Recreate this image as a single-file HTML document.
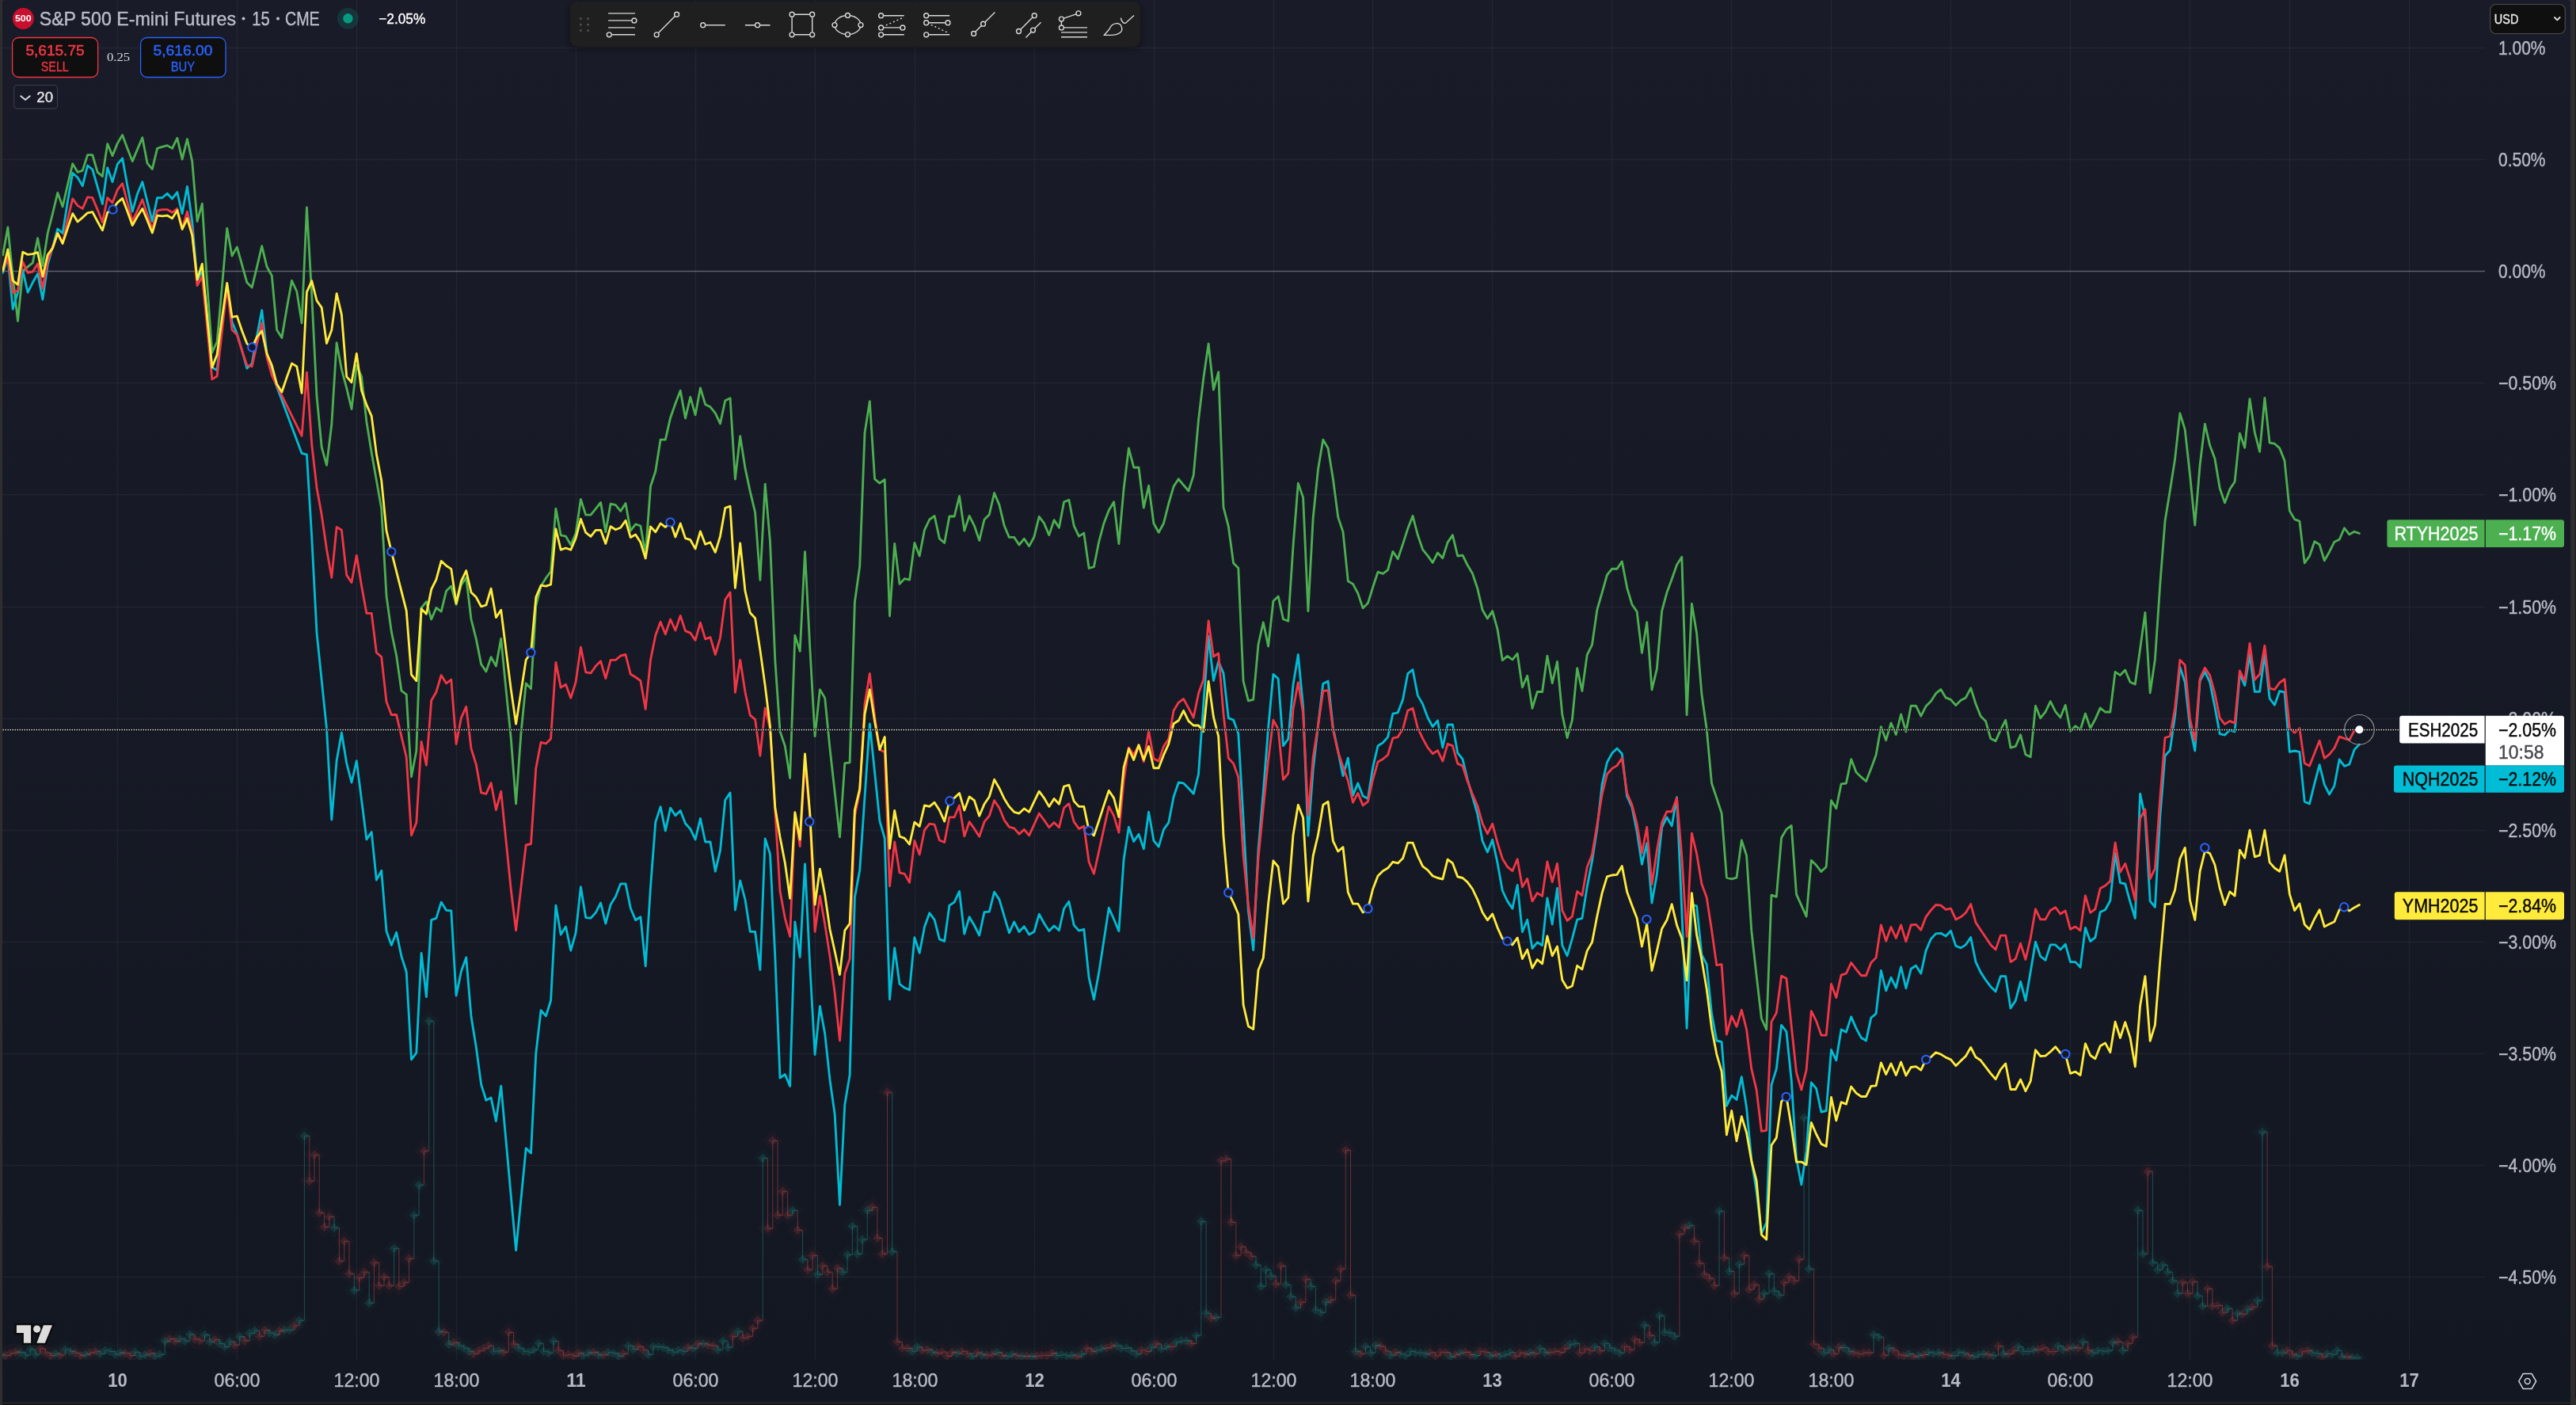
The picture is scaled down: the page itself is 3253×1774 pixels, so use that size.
<!DOCTYPE html>
<html><head><meta charset="utf-8"><title>chart</title>
<style>html,body{margin:0;padding:0;background:#2e2e2e;width:3253px;height:1774px;overflow:hidden}body{position:relative;font-family:"Liberation Sans",sans-serif}</style></head>
<body>
<svg width="3253" height="1774" viewBox="0 0 3253 1774" style="display:block;position:absolute;left:0;top:0;opacity:0.999" font-family="Liberation Sans, sans-serif">
<defs>
<linearGradient id="bg" x1="0" y1="0" x2="0" y2="1"><stop offset="0" stop-color="#191c28"/><stop offset="1" stop-color="#131722"/></linearGradient>
<clipPath id="pane"><rect x="3" y="0" width="3135" height="1717"/></clipPath>
<filter id="sh" x="-5%" y="-20%" width="110%" height="150%"><feGaussianBlur stdDeviation="4"/></filter>
</defs>
<rect x="0" y="0" width="3253" height="1774" fill="#2e2e2e"/>
<rect x="3" y="1772.3" width="3243" height="1.7" fill="#0f0f0f"/>
<rect x="3252.3" y="0" width="0.7" height="1766" fill="#141414"/>
<rect x="3" y="0" width="3243" height="1771" rx="3.5" ry="3.5" fill="url(#bg)"/>
<rect x="3" y="1760" width="3243" height="11" fill="#131722"/>
<path d="M148.5 0V1717 M299.5 0V1717 M450.5 0V1717 M576.5 0V1717 M727.5 0V1717 M878.5 0V1717 M1029.5 0V1717 M1155.5 0V1717 M1306.5 0V1717 M1457.5 0V1717 M1608.5 0V1717 M1733.5 0V1717 M1884.5 0V1717 M2035.5 0V1717 M2186.5 0V1717 M2312.5 0V1717 M2463.5 0V1717 M2614.5 0V1717 M2765.5 0V1717 M2891.5 0V1717 M3042.5 0V1717 M3 60.5H3138 M3 201.5H3138 M3 483.5H3138 M3 624.5H3138 M3 766.5H3138 M3 907.5H3138 M3 1048.5H3138 M3 1189.5H3138 M3 1330.5H3138 M3 1471.5H3138 M3 1612.5H3138" stroke="#ffffff" stroke-opacity="0.05" stroke-width="1.4" fill="none"/>
<path d="M3 342.5H3138" stroke="#7c7f8b" stroke-opacity="0.7" stroke-width="1.3" fill="none"/>
<g clip-path="url(#pane)">
<path d="M0.6 1697.7l13 13l-13 13l-13 -13zM25.8 1694.9l13 13l-13 13l-13 -13zM32.1 1698.3l13 13l-13 13l-13 -13zM38.3 1690.9l13 13l-13 13l-13 -13zM44.6 1697.0l13 13l-13 13l-13 -13zM69.8 1696.3l13 13l-13 13l-13 -13zM82.4 1691.0l13 13l-13 13l-13 -13zM88.7 1693.4l13 13l-13 13l-13 -13zM107.6 1697.1l13 13l-13 13l-13 -13zM126.4 1696.2l13 13l-13 13l-13 -13zM132.7 1692.2l13 13l-13 13l-13 -13zM139.0 1693.5l13 13l-13 13l-13 -13zM145.3 1697.0l13 13l-13 13l-13 -13zM151.6 1694.9l13 13l-13 13l-13 -13zM170.5 1694.3l13 13l-13 13l-13 -13zM176.8 1699.5l13 13l-13 13l-13 -13zM183.0 1697.7l13 13l-13 13l-13 -13zM195.6 1699.3l13 13l-13 13l-13 -13zM201.9 1697.3l13 13l-13 13l-13 -13zM208.2 1680.6l13 13l-13 13l-13 -13zM227.1 1677.7l13 13l-13 13l-13 -13zM233.4 1680.3l13 13l-13 13l-13 -13zM239.7 1671.9l13 13l-13 13l-13 -13zM258.5 1672.4l13 13l-13 13l-13 -13zM264.8 1681.3l13 13l-13 13l-13 -13zM277.4 1683.6l13 13l-13 13l-13 -13zM283.7 1687.6l13 13l-13 13l-13 -13zM290.0 1681.0l13 13l-13 13l-13 -13zM302.6 1674.6l13 13l-13 13l-13 -13zM315.2 1670.3l13 13l-13 13l-13 -13zM321.5 1667.3l13 13l-13 13l-13 -13zM340.3 1670.2l13 13l-13 13l-13 -13zM346.6 1672.4l13 13l-13 13l-13 -13zM359.2 1666.3l13 13l-13 13l-13 -13zM365.5 1666.3l13 13l-13 13l-13 -13zM378.1 1654.2l13 13l-13 13l-13 -13zM384.4 1421.2l13 13l-13 13l-13 -13zM422.1 1537.2l13 13l-13 13l-13 -13zM447.3 1616.2l13 13l-13 13l-13 -13zM466.2 1632.2l13 13l-13 13l-13 -13zM497.6 1563.2l13 13l-13 13l-13 -13zM522.8 1521.2l13 13l-13 13l-13 -13zM529.1 1483.2l13 13l-13 13l-13 -13zM541.7 1276.2l13 13l-13 13l-13 -13zM547.9 1579.2l13 13l-13 13l-13 -13zM554.2 1668.2l13 13l-13 13l-13 -13zM566.8 1684.2l13 13l-13 13l-13 -13zM579.4 1686.2l13 13l-13 13l-13 -13zM585.7 1689.2l13 13l-13 13l-13 -13zM592.0 1693.2l13 13l-13 13l-13 -13zM623.4 1693.2l13 13l-13 13l-13 -13zM629.7 1692.2l13 13l-13 13l-13 -13zM654.9 1689.2l13 13l-13 13l-13 -13zM661.2 1693.2l13 13l-13 13l-13 -13zM667.5 1694.2l13 13l-13 13l-13 -13zM673.8 1691.2l13 13l-13 13l-13 -13zM680.1 1683.2l13 13l-13 13l-13 -13zM686.4 1693.2l13 13l-13 13l-13 -13zM692.6 1695.2l13 13l-13 13l-13 -13zM698.9 1680.2l13 13l-13 13l-13 -13zM736.7 1698.2l13 13l-13 13l-13 -13zM743.0 1695.4l13 13l-13 13l-13 -13zM755.6 1697.8l13 13l-13 13l-13 -13zM768.1 1694.5l13 13l-13 13l-13 -13zM774.4 1695.9l13 13l-13 13l-13 -13zM780.7 1699.2l13 13l-13 13l-13 -13zM793.3 1686.3l13 13l-13 13l-13 -13zM799.6 1690.7l13 13l-13 13l-13 -13zM818.5 1697.3l13 13l-13 13l-13 -13zM824.8 1687.2l13 13l-13 13l-13 -13zM831.1 1687.6l13 13l-13 13l-13 -13zM837.3 1688.6l13 13l-13 13l-13 -13zM843.6 1691.6l13 13l-13 13l-13 -13zM849.9 1694.3l13 13l-13 13l-13 -13zM856.2 1692.1l13 13l-13 13l-13 -13zM862.5 1693.3l13 13l-13 13l-13 -13zM875.1 1689.6l13 13l-13 13l-13 -13zM887.7 1683.7l13 13l-13 13l-13 -13zM906.5 1691.2l13 13l-13 13l-13 -13zM912.8 1680.2l13 13l-13 13l-13 -13zM919.1 1688.2l13 13l-13 13l-13 -13zM931.7 1668.2l13 13l-13 13l-13 -13zM963.2 1449.2l13 13l-13 13l-13 -13zM1000.9 1515.2l13 13l-13 13l-13 -13zM1013.5 1577.2l13 13l-13 13l-13 -13zM1032.4 1596.2l13 13l-13 13l-13 -13zM1063.8 1593.2l13 13l-13 13l-13 -13zM1070.1 1571.2l13 13l-13 13l-13 -13zM1076.4 1535.2l13 13l-13 13l-13 -13zM1082.7 1570.2l13 13l-13 13l-13 -13zM1089.0 1552.2l13 13l-13 13l-13 -13zM1095.3 1515.2l13 13l-13 13l-13 -13zM1126.7 1567.2l13 13l-13 13l-13 -13zM1151.9 1693.2l13 13l-13 13l-13 -13zM1158.2 1687.8l13 13l-13 13l-13 -13zM1177.1 1694.3l13 13l-13 13l-13 -13zM1208.5 1696.0l13 13l-13 13l-13 -13zM1227.4 1699.8l13 13l-13 13l-13 -13zM1240.0 1697.5l13 13l-13 13l-13 -13zM1258.9 1694.6l13 13l-13 13l-13 -13zM1271.4 1699.4l13 13l-13 13l-13 -13zM1277.7 1697.0l13 13l-13 13l-13 -13zM1290.3 1699.5l13 13l-13 13l-13 -13zM1302.9 1699.9l13 13l-13 13l-13 -13zM1334.4 1698.5l13 13l-13 13l-13 -13zM1340.6 1697.2l13 13l-13 13l-13 -13zM1346.9 1699.1l13 13l-13 13l-13 -13zM1353.2 1698.1l13 13l-13 13l-13 -13zM1365.8 1696.6l13 13l-13 13l-13 -13zM1384.7 1691.7l13 13l-13 13l-13 -13zM1391.0 1689.8l13 13l-13 13l-13 -13zM1409.9 1686.2l13 13l-13 13l-13 -13zM1416.1 1689.5l13 13l-13 13l-13 -13zM1422.4 1688.9l13 13l-13 13l-13 -13zM1428.7 1693.0l13 13l-13 13l-13 -13zM1435.0 1696.8l13 13l-13 13l-13 -13zM1453.9 1688.2l13 13l-13 13l-13 -13zM1466.5 1690.0l13 13l-13 13l-13 -13zM1472.8 1687.3l13 13l-13 13l-13 -13zM1485.3 1681.6l13 13l-13 13l-13 -13zM1491.6 1679.8l13 13l-13 13l-13 -13zM1497.9 1679.9l13 13l-13 13l-13 -13zM1510.5 1673.2l13 13l-13 13l-13 -13zM1516.8 1529.2l13 13l-13 13l-13 -13zM1523.1 1645.2l13 13l-13 13l-13 -13zM1535.7 1650.2l13 13l-13 13l-13 -13zM1586.0 1584.2l13 13l-13 13l-13 -13zM1592.3 1611.2l13 13l-13 13l-13 -13zM1598.6 1590.2l13 13l-13 13l-13 -13zM1604.9 1598.2l13 13l-13 13l-13 -13zM1623.8 1609.2l13 13l-13 13l-13 -13zM1630.0 1624.2l13 13l-13 13l-13 -13zM1636.3 1638.2l13 13l-13 13l-13 -13zM1655.2 1611.2l13 13l-13 13l-13 -13zM1661.5 1641.2l13 13l-13 13l-13 -13zM1667.8 1644.2l13 13l-13 13l-13 -13zM1674.1 1631.2l13 13l-13 13l-13 -13zM1711.8 1693.2l13 13l-13 13l-13 -13zM1724.4 1687.2l13 13l-13 13l-13 -13zM1730.7 1695.2l13 13l-13 13l-13 -13zM1737.0 1685.6l13 13l-13 13l-13 -13zM1755.9 1698.3l13 13l-13 13l-13 -13zM1768.5 1696.7l13 13l-13 13l-13 -13zM1774.7 1698.8l13 13l-13 13l-13 -13zM1781.0 1693.4l13 13l-13 13l-13 -13zM1787.3 1695.0l13 13l-13 13l-13 -13zM1793.6 1695.2l13 13l-13 13l-13 -13zM1799.9 1696.9l13 13l-13 13l-13 -13zM1831.4 1700.1l13 13l-13 13l-13 -13zM1844.0 1695.3l13 13l-13 13l-13 -13zM1862.8 1698.6l13 13l-13 13l-13 -13zM1881.7 1698.9l13 13l-13 13l-13 -13zM1894.3 1699.3l13 13l-13 13l-13 -13zM1900.6 1697.1l13 13l-13 13l-13 -13zM1906.9 1694.5l13 13l-13 13l-13 -13zM1932.0 1694.9l13 13l-13 13l-13 -13zM1944.6 1689.6l13 13l-13 13l-13 -13zM1950.9 1695.1l13 13l-13 13l-13 -13zM1982.4 1684.2l13 13l-13 13l-13 -13zM1988.7 1683.2l13 13l-13 13l-13 -13zM2013.8 1687.5l13 13l-13 13l-13 -13zM2026.4 1683.2l13 13l-13 13l-13 -13zM2032.7 1689.2l13 13l-13 13l-13 -13zM2039.0 1692.2l13 13l-13 13l-13 -13zM2045.3 1695.2l13 13l-13 13l-13 -13zM2076.7 1660.2l13 13l-13 13l-13 -13zM2089.3 1682.2l13 13l-13 13l-13 -13zM2095.6 1648.2l13 13l-13 13l-13 -13zM2101.9 1669.2l13 13l-13 13l-13 -13zM2108.2 1670.2l13 13l-13 13l-13 -13zM2114.5 1674.2l13 13l-13 13l-13 -13zM2133.4 1534.2l13 13l-13 13l-13 -13zM2171.1 1516.2l13 13l-13 13l-13 -13zM2183.7 1592.2l13 13l-13 13l-13 -13zM2196.3 1583.2l13 13l-13 13l-13 -13zM2227.7 1620.2l13 13l-13 13l-13 -13zM2234.0 1595.2l13 13l-13 13l-13 -13zM2240.3 1617.2l13 13l-13 13l-13 -13zM2246.6 1622.2l13 13l-13 13l-13 -13zM2278.1 1398.2l13 13l-13 13l-13 -13zM2284.3 1589.2l13 13l-13 13l-13 -13zM2303.2 1695.2l13 13l-13 13l-13 -13zM2309.5 1691.2l13 13l-13 13l-13 -13zM2328.4 1688.7l13 13l-13 13l-13 -13zM2334.7 1693.3l13 13l-13 13l-13 -13zM2366.1 1672.2l13 13l-13 13l-13 -13zM2372.4 1675.2l13 13l-13 13l-13 -13zM2385.0 1689.2l13 13l-13 13l-13 -13zM2410.2 1696.6l13 13l-13 13l-13 -13zM2422.8 1698.4l13 13l-13 13l-13 -13zM2435.3 1694.4l13 13l-13 13l-13 -13zM2441.6 1696.3l13 13l-13 13l-13 -13zM2447.9 1694.9l13 13l-13 13l-13 -13zM2466.8 1698.7l13 13l-13 13l-13 -13zM2473.1 1694.4l13 13l-13 13l-13 -13zM2479.4 1696.0l13 13l-13 13l-13 -13zM2492.0 1700.1l13 13l-13 13l-13 -13zM2498.2 1697.2l13 13l-13 13l-13 -13zM2504.5 1696.2l13 13l-13 13l-13 -13zM2517.1 1698.7l13 13l-13 13l-13 -13zM2529.7 1696.6l13 13l-13 13l-13 -13zM2548.6 1687.5l13 13l-13 13l-13 -13zM2554.9 1693.5l13 13l-13 13l-13 -13zM2561.2 1693.2l13 13l-13 13l-13 -13zM2567.5 1691.4l13 13l-13 13l-13 -13zM2598.9 1686.6l13 13l-13 13l-13 -13zM2605.2 1691.2l13 13l-13 13l-13 -13zM2617.8 1688.2l13 13l-13 13l-13 -13zM2630.4 1681.2l13 13l-13 13l-13 -13zM2642.9 1695.2l13 13l-13 13l-13 -13zM2649.2 1692.2l13 13l-13 13l-13 -13zM2655.5 1693.2l13 13l-13 13l-13 -13zM2661.8 1692.2l13 13l-13 13l-13 -13zM2668.1 1682.2l13 13l-13 13l-13 -13zM2680.7 1692.2l13 13l-13 13l-13 -13zM2699.6 1515.2l13 13l-13 13l-13 -13zM2705.9 1570.2l13 13l-13 13l-13 -13zM2718.4 1581.2l13 13l-13 13l-13 -13zM2724.7 1590.2l13 13l-13 13l-13 -13zM2731.0 1584.2l13 13l-13 13l-13 -13zM2737.3 1593.2l13 13l-13 13l-13 -13zM2743.6 1604.2l13 13l-13 13l-13 -13zM2749.9 1620.2l13 13l-13 13l-13 -13zM2775.1 1623.2l13 13l-13 13l-13 -13zM2781.4 1636.2l13 13l-13 13l-13 -13zM2812.8 1639.2l13 13l-13 13l-13 -13zM2825.4 1645.2l13 13l-13 13l-13 -13zM2838.0 1640.2l13 13l-13 13l-13 -13zM2850.6 1629.2l13 13l-13 13l-13 -13zM2856.9 1416.2l13 13l-13 13l-13 -13zM2875.7 1695.2l13 13l-13 13l-13 -13zM2882.0 1695.2l13 13l-13 13l-13 -13zM2900.9 1699.2l13 13l-13 13l-13 -13zM2919.8 1695.2l13 13l-13 13l-13 -13zM2926.1 1696.2l13 13l-13 13l-13 -13zM2938.6 1696.2l13 13l-13 13l-13 -13zM2944.9 1697.2l13 13l-13 13l-13 -13zM2951.2 1692.2l13 13l-13 13l-13 -13zM2957.5 1700.2l13 13l-13 13l-13 -13zM2970.1 1701.2l13 13l-13 13l-13 -13zM2976.4 1701.2l13 13l-13 13l-13 -13z" fill="#26a69a" fill-opacity="0.035"/>
<path d="M6.9 1698.5l13 13l-13 13l-13 -13zM13.2 1695.5l13 13l-13 13l-13 -13zM19.5 1694.1l13 13l-13 13l-13 -13zM50.9 1689.7l13 13l-13 13l-13 -13zM57.2 1695.2l13 13l-13 13l-13 -13zM63.5 1698.7l13 13l-13 13l-13 -13zM76.1 1698.0l13 13l-13 13l-13 -13zM95.0 1695.5l13 13l-13 13l-13 -13zM101.3 1698.6l13 13l-13 13l-13 -13zM113.8 1694.9l13 13l-13 13l-13 -13zM120.1 1693.3l13 13l-13 13l-13 -13zM157.9 1695.8l13 13l-13 13l-13 -13zM164.2 1698.5l13 13l-13 13l-13 -13zM189.3 1695.7l13 13l-13 13l-13 -13zM214.5 1677.6l13 13l-13 13l-13 -13zM220.8 1680.6l13 13l-13 13l-13 -13zM246.0 1678.1l13 13l-13 13l-13 -13zM252.3 1680.0l13 13l-13 13l-13 -13zM271.1 1678.5l13 13l-13 13l-13 -13zM296.3 1685.3l13 13l-13 13l-13 -13zM308.9 1679.9l13 13l-13 13l-13 -13zM327.7 1674.3l13 13l-13 13l-13 -13zM334.0 1666.6l13 13l-13 13l-13 -13zM352.9 1667.4l13 13l-13 13l-13 -13zM371.8 1660.8l13 13l-13 13l-13 -13zM390.7 1478.2l13 13l-13 13l-13 -13zM397.0 1445.2l13 13l-13 13l-13 -13zM403.2 1518.2l13 13l-13 13l-13 -13zM409.5 1536.2l13 13l-13 13l-13 -13zM415.8 1523.2l13 13l-13 13l-13 -13zM428.4 1579.2l13 13l-13 13l-13 -13zM434.7 1554.2l13 13l-13 13l-13 -13zM441.0 1595.2l13 13l-13 13l-13 -13zM453.6 1600.2l13 13l-13 13l-13 -13zM459.9 1593.2l13 13l-13 13l-13 -13zM472.4 1581.2l13 13l-13 13l-13 -13zM478.7 1610.2l13 13l-13 13l-13 -13zM485.0 1599.2l13 13l-13 13l-13 -13zM491.3 1610.2l13 13l-13 13l-13 -13zM503.9 1611.2l13 13l-13 13l-13 -13zM510.2 1606.2l13 13l-13 13l-13 -13zM516.5 1576.2l13 13l-13 13l-13 -13zM535.4 1440.2l13 13l-13 13l-13 -13zM560.5 1669.2l13 13l-13 13l-13 -13zM573.1 1682.2l13 13l-13 13l-13 -13zM598.3 1696.2l13 13l-13 13l-13 -13zM604.6 1692.2l13 13l-13 13l-13 -13zM610.9 1689.2l13 13l-13 13l-13 -13zM617.1 1686.2l13 13l-13 13l-13 -13zM636.0 1694.2l13 13l-13 13l-13 -13zM642.3 1669.2l13 13l-13 13l-13 -13zM648.6 1684.2l13 13l-13 13l-13 -13zM705.2 1692.2l13 13l-13 13l-13 -13zM711.5 1698.2l13 13l-13 13l-13 -13zM717.8 1697.3l13 13l-13 13l-13 -13zM724.1 1699.1l13 13l-13 13l-13 -13zM730.4 1695.5l13 13l-13 13l-13 -13zM749.3 1694.4l13 13l-13 13l-13 -13zM761.8 1697.8l13 13l-13 13l-13 -13zM787.0 1696.2l13 13l-13 13l-13 -13zM805.9 1687.1l13 13l-13 13l-13 -13zM812.2 1691.7l13 13l-13 13l-13 -13zM868.8 1688.2l13 13l-13 13l-13 -13zM881.4 1683.8l13 13l-13 13l-13 -13zM894.0 1685.4l13 13l-13 13l-13 -13zM900.3 1686.2l13 13l-13 13l-13 -13zM925.4 1674.2l13 13l-13 13l-13 -13zM938.0 1676.2l13 13l-13 13l-13 -13zM944.3 1674.2l13 13l-13 13l-13 -13zM950.6 1664.2l13 13l-13 13l-13 -13zM956.9 1654.2l13 13l-13 13l-13 -13zM969.5 1538.2l13 13l-13 13l-13 -13zM975.8 1427.2l13 13l-13 13l-13 -13zM982.0 1521.2l13 13l-13 13l-13 -13zM988.3 1491.2l13 13l-13 13l-13 -13zM994.6 1521.2l13 13l-13 13l-13 -13zM1007.2 1540.2l13 13l-13 13l-13 -13zM1019.8 1590.2l13 13l-13 13l-13 -13zM1026.1 1572.2l13 13l-13 13l-13 -13zM1038.7 1585.2l13 13l-13 13l-13 -13zM1045.0 1593.2l13 13l-13 13l-13 -13zM1051.2 1614.2l13 13l-13 13l-13 -13zM1057.5 1588.2l13 13l-13 13l-13 -13zM1101.6 1511.2l13 13l-13 13l-13 -13zM1107.9 1550.2l13 13l-13 13l-13 -13zM1114.2 1570.2l13 13l-13 13l-13 -13zM1120.5 1366.2l13 13l-13 13l-13 -13zM1133.0 1681.2l13 13l-13 13l-13 -13zM1139.3 1689.2l13 13l-13 13l-13 -13zM1145.6 1689.2l13 13l-13 13l-13 -13zM1164.5 1692.1l13 13l-13 13l-13 -13zM1170.8 1691.0l13 13l-13 13l-13 -13zM1183.4 1695.6l13 13l-13 13l-13 -13zM1189.7 1694.0l13 13l-13 13l-13 -13zM1195.9 1699.4l13 13l-13 13l-13 -13zM1202.2 1694.4l13 13l-13 13l-13 -13zM1214.8 1693.2l13 13l-13 13l-13 -13zM1221.1 1696.3l13 13l-13 13l-13 -13zM1233.7 1695.0l13 13l-13 13l-13 -13zM1246.3 1698.2l13 13l-13 13l-13 -13zM1252.6 1696.9l13 13l-13 13l-13 -13zM1265.2 1698.6l13 13l-13 13l-13 -13zM1284.0 1698.8l13 13l-13 13l-13 -13zM1296.6 1699.2l13 13l-13 13l-13 -13zM1309.2 1699.0l13 13l-13 13l-13 -13zM1315.5 1698.3l13 13l-13 13l-13 -13zM1321.8 1698.4l13 13l-13 13l-13 -13zM1328.1 1695.6l13 13l-13 13l-13 -13zM1359.5 1700.1l13 13l-13 13l-13 -13zM1372.1 1689.4l13 13l-13 13l-13 -13zM1378.4 1693.3l13 13l-13 13l-13 -13zM1397.3 1688.6l13 13l-13 13l-13 -13zM1403.6 1686.2l13 13l-13 13l-13 -13zM1441.3 1691.8l13 13l-13 13l-13 -13zM1447.6 1693.5l13 13l-13 13l-13 -13zM1460.2 1683.9l13 13l-13 13l-13 -13zM1479.1 1687.3l13 13l-13 13l-13 -13zM1504.2 1683.5l13 13l-13 13l-13 -13zM1529.4 1651.2l13 13l-13 13l-13 -13zM1542.0 1452.2l13 13l-13 13l-13 -13zM1548.3 1450.2l13 13l-13 13l-13 -13zM1554.6 1530.2l13 13l-13 13l-13 -13zM1560.8 1572.2l13 13l-13 13l-13 -13zM1567.1 1561.2l13 13l-13 13l-13 -13zM1573.4 1568.2l13 13l-13 13l-13 -13zM1579.7 1573.2l13 13l-13 13l-13 -13zM1611.2 1608.2l13 13l-13 13l-13 -13zM1617.5 1585.2l13 13l-13 13l-13 -13zM1642.6 1631.2l13 13l-13 13l-13 -13zM1648.9 1602.2l13 13l-13 13l-13 -13zM1680.4 1628.2l13 13l-13 13l-13 -13zM1686.7 1604.2l13 13l-13 13l-13 -13zM1693.0 1589.2l13 13l-13 13l-13 -13zM1699.3 1439.2l13 13l-13 13l-13 -13zM1705.5 1622.2l13 13l-13 13l-13 -13zM1718.1 1696.2l13 13l-13 13l-13 -13zM1743.3 1687.1l13 13l-13 13l-13 -13zM1749.6 1693.0l13 13l-13 13l-13 -13zM1762.2 1694.5l13 13l-13 13l-13 -13zM1806.2 1694.8l13 13l-13 13l-13 -13zM1812.5 1699.0l13 13l-13 13l-13 -13zM1818.8 1694.3l13 13l-13 13l-13 -13zM1825.1 1694.6l13 13l-13 13l-13 -13zM1837.7 1697.4l13 13l-13 13l-13 -13zM1850.2 1694.4l13 13l-13 13l-13 -13zM1856.5 1697.5l13 13l-13 13l-13 -13zM1869.1 1693.2l13 13l-13 13l-13 -13zM1875.4 1694.5l13 13l-13 13l-13 -13zM1888.0 1696.7l13 13l-13 13l-13 -13zM1913.2 1699.4l13 13l-13 13l-13 -13zM1919.4 1695.3l13 13l-13 13l-13 -13zM1925.7 1697.1l13 13l-13 13l-13 -13zM1938.3 1696.0l13 13l-13 13l-13 -13zM1957.2 1694.2l13 13l-13 13l-13 -13zM1963.5 1693.1l13 13l-13 13l-13 -13zM1969.8 1694.6l13 13l-13 13l-13 -13zM1976.1 1689.6l13 13l-13 13l-13 -13zM1994.9 1695.2l13 13l-13 13l-13 -13zM2001.2 1690.5l13 13l-13 13l-13 -13zM2007.5 1692.8l13 13l-13 13l-13 -13zM2020.1 1692.6l13 13l-13 13l-13 -13zM2051.6 1687.2l13 13l-13 13l-13 -13zM2057.9 1691.2l13 13l-13 13l-13 -13zM2064.1 1678.2l13 13l-13 13l-13 -13zM2070.4 1682.2l13 13l-13 13l-13 -13zM2083.0 1673.2l13 13l-13 13l-13 -13zM2120.8 1545.2l13 13l-13 13l-13 -13zM2127.1 1537.2l13 13l-13 13l-13 -13zM2139.6 1554.2l13 13l-13 13l-13 -13zM2145.9 1582.2l13 13l-13 13l-13 -13zM2152.2 1596.2l13 13l-13 13l-13 -13zM2158.5 1601.2l13 13l-13 13l-13 -13zM2164.8 1610.2l13 13l-13 13l-13 -13zM2177.4 1575.2l13 13l-13 13l-13 -13zM2190.0 1620.2l13 13l-13 13l-13 -13zM2202.6 1572.2l13 13l-13 13l-13 -13zM2208.8 1615.2l13 13l-13 13l-13 -13zM2215.1 1609.2l13 13l-13 13l-13 -13zM2221.4 1627.2l13 13l-13 13l-13 -13zM2252.9 1606.2l13 13l-13 13l-13 -13zM2259.2 1599.2l13 13l-13 13l-13 -13zM2265.5 1604.2l13 13l-13 13l-13 -13zM2271.8 1577.2l13 13l-13 13l-13 -13zM2290.6 1684.2l13 13l-13 13l-13 -13zM2296.9 1689.2l13 13l-13 13l-13 -13zM2315.8 1696.2l13 13l-13 13l-13 -13zM2322.1 1688.3l13 13l-13 13l-13 -13zM2341.0 1695.3l13 13l-13 13l-13 -13zM2347.3 1696.8l13 13l-13 13l-13 -13zM2353.5 1695.1l13 13l-13 13l-13 -13zM2359.8 1695.1l13 13l-13 13l-13 -13zM2378.7 1698.2l13 13l-13 13l-13 -13zM2391.3 1692.2l13 13l-13 13l-13 -13zM2397.6 1697.9l13 13l-13 13l-13 -13zM2403.9 1698.9l13 13l-13 13l-13 -13zM2416.5 1700.1l13 13l-13 13l-13 -13zM2429.0 1697.4l13 13l-13 13l-13 -13zM2454.2 1697.3l13 13l-13 13l-13 -13zM2460.5 1698.8l13 13l-13 13l-13 -13zM2485.7 1698.4l13 13l-13 13l-13 -13zM2510.8 1697.7l13 13l-13 13l-13 -13zM2523.4 1686.8l13 13l-13 13l-13 -13zM2536.0 1696.2l13 13l-13 13l-13 -13zM2542.3 1692.5l13 13l-13 13l-13 -13zM2573.7 1690.8l13 13l-13 13l-13 -13zM2580.0 1688.8l13 13l-13 13l-13 -13zM2586.3 1693.7l13 13l-13 13l-13 -13zM2592.6 1693.5l13 13l-13 13l-13 -13zM2611.5 1689.2l13 13l-13 13l-13 -13zM2624.1 1689.2l13 13l-13 13l-13 -13zM2636.7 1692.2l13 13l-13 13l-13 -13zM2674.4 1681.2l13 13l-13 13l-13 -13zM2687.0 1683.2l13 13l-13 13l-13 -13zM2693.3 1675.2l13 13l-13 13l-13 -13zM2712.2 1466.2l13 13l-13 13l-13 -13zM2756.2 1606.2l13 13l-13 13l-13 -13zM2762.5 1620.2l13 13l-13 13l-13 -13zM2768.8 1605.2l13 13l-13 13l-13 -13zM2787.6 1614.2l13 13l-13 13l-13 -13zM2793.9 1636.2l13 13l-13 13l-13 -13zM2800.2 1635.2l13 13l-13 13l-13 -13zM2806.5 1644.2l13 13l-13 13l-13 -13zM2819.1 1654.2l13 13l-13 13l-13 -13zM2831.7 1646.2l13 13l-13 13l-13 -13zM2844.3 1637.2l13 13l-13 13l-13 -13zM2863.1 1586.2l13 13l-13 13l-13 -13zM2869.4 1686.2l13 13l-13 13l-13 -13zM2888.3 1692.2l13 13l-13 13l-13 -13zM2894.6 1697.2l13 13l-13 13l-13 -13zM2907.2 1693.2l13 13l-13 13l-13 -13zM2913.5 1692.2l13 13l-13 13l-13 -13zM2932.3 1700.2l13 13l-13 13l-13 -13zM2963.8 1700.2l13 13l-13 13l-13 -13z" fill="#ef5350" fill-opacity="0.035"/>
<path d="M0.6 1704.7l6 6l-6 6l-6 -6zM25.8 1701.9l6 6l-6 6l-6 -6zM32.1 1705.3l6 6l-6 6l-6 -6zM38.3 1697.9l6 6l-6 6l-6 -6zM44.6 1704.0l6 6l-6 6l-6 -6zM69.8 1703.3l6 6l-6 6l-6 -6zM82.4 1698.0l6 6l-6 6l-6 -6zM88.7 1700.4l6 6l-6 6l-6 -6zM107.6 1704.1l6 6l-6 6l-6 -6zM126.4 1703.2l6 6l-6 6l-6 -6zM132.7 1699.2l6 6l-6 6l-6 -6zM139.0 1700.5l6 6l-6 6l-6 -6zM145.3 1704.0l6 6l-6 6l-6 -6zM151.6 1701.9l6 6l-6 6l-6 -6zM170.5 1701.3l6 6l-6 6l-6 -6zM176.8 1706.5l6 6l-6 6l-6 -6zM183.0 1704.7l6 6l-6 6l-6 -6zM195.6 1706.3l6 6l-6 6l-6 -6zM201.9 1704.3l6 6l-6 6l-6 -6zM208.2 1687.6l6 6l-6 6l-6 -6zM227.1 1684.7l6 6l-6 6l-6 -6zM233.4 1687.3l6 6l-6 6l-6 -6zM239.7 1678.9l6 6l-6 6l-6 -6zM258.5 1679.4l6 6l-6 6l-6 -6zM264.8 1688.3l6 6l-6 6l-6 -6zM277.4 1690.6l6 6l-6 6l-6 -6zM283.7 1694.6l6 6l-6 6l-6 -6zM290.0 1688.0l6 6l-6 6l-6 -6zM302.6 1681.6l6 6l-6 6l-6 -6zM315.2 1677.3l6 6l-6 6l-6 -6zM321.5 1674.3l6 6l-6 6l-6 -6zM340.3 1677.2l6 6l-6 6l-6 -6zM346.6 1679.4l6 6l-6 6l-6 -6zM359.2 1673.3l6 6l-6 6l-6 -6zM365.5 1673.3l6 6l-6 6l-6 -6zM378.1 1661.2l6 6l-6 6l-6 -6zM384.4 1428.2l6 6l-6 6l-6 -6zM422.1 1544.2l6 6l-6 6l-6 -6zM447.3 1623.2l6 6l-6 6l-6 -6zM466.2 1639.2l6 6l-6 6l-6 -6zM497.6 1570.2l6 6l-6 6l-6 -6zM522.8 1528.2l6 6l-6 6l-6 -6zM529.1 1490.2l6 6l-6 6l-6 -6zM541.7 1283.2l6 6l-6 6l-6 -6zM547.9 1586.2l6 6l-6 6l-6 -6zM554.2 1675.2l6 6l-6 6l-6 -6zM566.8 1691.2l6 6l-6 6l-6 -6zM579.4 1693.2l6 6l-6 6l-6 -6zM585.7 1696.2l6 6l-6 6l-6 -6zM592.0 1700.2l6 6l-6 6l-6 -6zM623.4 1700.2l6 6l-6 6l-6 -6zM629.7 1699.2l6 6l-6 6l-6 -6zM654.9 1696.2l6 6l-6 6l-6 -6zM661.2 1700.2l6 6l-6 6l-6 -6zM667.5 1701.2l6 6l-6 6l-6 -6zM673.8 1698.2l6 6l-6 6l-6 -6zM680.1 1690.2l6 6l-6 6l-6 -6zM686.4 1700.2l6 6l-6 6l-6 -6zM692.6 1702.2l6 6l-6 6l-6 -6zM698.9 1687.2l6 6l-6 6l-6 -6zM736.7 1705.2l6 6l-6 6l-6 -6zM743.0 1702.4l6 6l-6 6l-6 -6zM755.6 1704.8l6 6l-6 6l-6 -6zM768.1 1701.5l6 6l-6 6l-6 -6zM774.4 1702.9l6 6l-6 6l-6 -6zM780.7 1706.2l6 6l-6 6l-6 -6zM793.3 1693.3l6 6l-6 6l-6 -6zM799.6 1697.7l6 6l-6 6l-6 -6zM818.5 1704.3l6 6l-6 6l-6 -6zM824.8 1694.2l6 6l-6 6l-6 -6zM831.1 1694.6l6 6l-6 6l-6 -6zM837.3 1695.6l6 6l-6 6l-6 -6zM843.6 1698.6l6 6l-6 6l-6 -6zM849.9 1701.3l6 6l-6 6l-6 -6zM856.2 1699.1l6 6l-6 6l-6 -6zM862.5 1700.3l6 6l-6 6l-6 -6zM875.1 1696.6l6 6l-6 6l-6 -6zM887.7 1690.7l6 6l-6 6l-6 -6zM906.5 1698.2l6 6l-6 6l-6 -6zM912.8 1687.2l6 6l-6 6l-6 -6zM919.1 1695.2l6 6l-6 6l-6 -6zM931.7 1675.2l6 6l-6 6l-6 -6zM963.2 1456.2l6 6l-6 6l-6 -6zM1000.9 1522.2l6 6l-6 6l-6 -6zM1013.5 1584.2l6 6l-6 6l-6 -6zM1032.4 1603.2l6 6l-6 6l-6 -6zM1063.8 1600.2l6 6l-6 6l-6 -6zM1070.1 1578.2l6 6l-6 6l-6 -6zM1076.4 1542.2l6 6l-6 6l-6 -6zM1082.7 1577.2l6 6l-6 6l-6 -6zM1089.0 1559.2l6 6l-6 6l-6 -6zM1095.3 1522.2l6 6l-6 6l-6 -6zM1126.7 1574.2l6 6l-6 6l-6 -6zM1151.9 1700.2l6 6l-6 6l-6 -6zM1158.2 1694.8l6 6l-6 6l-6 -6zM1177.1 1701.3l6 6l-6 6l-6 -6zM1208.5 1703.0l6 6l-6 6l-6 -6zM1227.4 1706.8l6 6l-6 6l-6 -6zM1240.0 1704.5l6 6l-6 6l-6 -6zM1258.9 1701.6l6 6l-6 6l-6 -6zM1271.4 1706.4l6 6l-6 6l-6 -6zM1277.7 1704.0l6 6l-6 6l-6 -6zM1290.3 1706.5l6 6l-6 6l-6 -6zM1302.9 1706.9l6 6l-6 6l-6 -6zM1334.4 1705.5l6 6l-6 6l-6 -6zM1340.6 1704.2l6 6l-6 6l-6 -6zM1346.9 1706.1l6 6l-6 6l-6 -6zM1353.2 1705.1l6 6l-6 6l-6 -6zM1365.8 1703.6l6 6l-6 6l-6 -6zM1384.7 1698.7l6 6l-6 6l-6 -6zM1391.0 1696.8l6 6l-6 6l-6 -6zM1409.9 1693.2l6 6l-6 6l-6 -6zM1416.1 1696.5l6 6l-6 6l-6 -6zM1422.4 1695.9l6 6l-6 6l-6 -6zM1428.7 1700.0l6 6l-6 6l-6 -6zM1435.0 1703.8l6 6l-6 6l-6 -6zM1453.9 1695.2l6 6l-6 6l-6 -6zM1466.5 1697.0l6 6l-6 6l-6 -6zM1472.8 1694.3l6 6l-6 6l-6 -6zM1485.3 1688.6l6 6l-6 6l-6 -6zM1491.6 1686.8l6 6l-6 6l-6 -6zM1497.9 1686.9l6 6l-6 6l-6 -6zM1510.5 1680.2l6 6l-6 6l-6 -6zM1516.8 1536.2l6 6l-6 6l-6 -6zM1523.1 1652.2l6 6l-6 6l-6 -6zM1535.7 1657.2l6 6l-6 6l-6 -6zM1586.0 1591.2l6 6l-6 6l-6 -6zM1592.3 1618.2l6 6l-6 6l-6 -6zM1598.6 1597.2l6 6l-6 6l-6 -6zM1604.9 1605.2l6 6l-6 6l-6 -6zM1623.8 1616.2l6 6l-6 6l-6 -6zM1630.0 1631.2l6 6l-6 6l-6 -6zM1636.3 1645.2l6 6l-6 6l-6 -6zM1655.2 1618.2l6 6l-6 6l-6 -6zM1661.5 1648.2l6 6l-6 6l-6 -6zM1667.8 1651.2l6 6l-6 6l-6 -6zM1674.1 1638.2l6 6l-6 6l-6 -6zM1711.8 1700.2l6 6l-6 6l-6 -6zM1724.4 1694.2l6 6l-6 6l-6 -6zM1730.7 1702.2l6 6l-6 6l-6 -6zM1737.0 1692.6l6 6l-6 6l-6 -6zM1755.9 1705.3l6 6l-6 6l-6 -6zM1768.5 1703.7l6 6l-6 6l-6 -6zM1774.7 1705.8l6 6l-6 6l-6 -6zM1781.0 1700.4l6 6l-6 6l-6 -6zM1787.3 1702.0l6 6l-6 6l-6 -6zM1793.6 1702.2l6 6l-6 6l-6 -6zM1799.9 1703.9l6 6l-6 6l-6 -6zM1831.4 1707.1l6 6l-6 6l-6 -6zM1844.0 1702.3l6 6l-6 6l-6 -6zM1862.8 1705.6l6 6l-6 6l-6 -6zM1881.7 1705.9l6 6l-6 6l-6 -6zM1894.3 1706.3l6 6l-6 6l-6 -6zM1900.6 1704.1l6 6l-6 6l-6 -6zM1906.9 1701.5l6 6l-6 6l-6 -6zM1932.0 1701.9l6 6l-6 6l-6 -6zM1944.6 1696.6l6 6l-6 6l-6 -6zM1950.9 1702.1l6 6l-6 6l-6 -6zM1982.4 1691.2l6 6l-6 6l-6 -6zM1988.7 1690.2l6 6l-6 6l-6 -6zM2013.8 1694.5l6 6l-6 6l-6 -6zM2026.4 1690.2l6 6l-6 6l-6 -6zM2032.7 1696.2l6 6l-6 6l-6 -6zM2039.0 1699.2l6 6l-6 6l-6 -6zM2045.3 1702.2l6 6l-6 6l-6 -6zM2076.7 1667.2l6 6l-6 6l-6 -6zM2089.3 1689.2l6 6l-6 6l-6 -6zM2095.6 1655.2l6 6l-6 6l-6 -6zM2101.9 1676.2l6 6l-6 6l-6 -6zM2108.2 1677.2l6 6l-6 6l-6 -6zM2114.5 1681.2l6 6l-6 6l-6 -6zM2133.4 1541.2l6 6l-6 6l-6 -6zM2171.1 1523.2l6 6l-6 6l-6 -6zM2183.7 1599.2l6 6l-6 6l-6 -6zM2196.3 1590.2l6 6l-6 6l-6 -6zM2227.7 1627.2l6 6l-6 6l-6 -6zM2234.0 1602.2l6 6l-6 6l-6 -6zM2240.3 1624.2l6 6l-6 6l-6 -6zM2246.6 1629.2l6 6l-6 6l-6 -6zM2278.1 1405.2l6 6l-6 6l-6 -6zM2284.3 1596.2l6 6l-6 6l-6 -6zM2303.2 1702.2l6 6l-6 6l-6 -6zM2309.5 1698.2l6 6l-6 6l-6 -6zM2328.4 1695.7l6 6l-6 6l-6 -6zM2334.7 1700.3l6 6l-6 6l-6 -6zM2366.1 1679.2l6 6l-6 6l-6 -6zM2372.4 1682.2l6 6l-6 6l-6 -6zM2385.0 1696.2l6 6l-6 6l-6 -6zM2410.2 1703.6l6 6l-6 6l-6 -6zM2422.8 1705.4l6 6l-6 6l-6 -6zM2435.3 1701.4l6 6l-6 6l-6 -6zM2441.6 1703.3l6 6l-6 6l-6 -6zM2447.9 1701.9l6 6l-6 6l-6 -6zM2466.8 1705.7l6 6l-6 6l-6 -6zM2473.1 1701.4l6 6l-6 6l-6 -6zM2479.4 1703.0l6 6l-6 6l-6 -6zM2492.0 1707.1l6 6l-6 6l-6 -6zM2498.2 1704.2l6 6l-6 6l-6 -6zM2504.5 1703.2l6 6l-6 6l-6 -6zM2517.1 1705.7l6 6l-6 6l-6 -6zM2529.7 1703.6l6 6l-6 6l-6 -6zM2548.6 1694.5l6 6l-6 6l-6 -6zM2554.9 1700.5l6 6l-6 6l-6 -6zM2561.2 1700.2l6 6l-6 6l-6 -6zM2567.5 1698.4l6 6l-6 6l-6 -6zM2598.9 1693.6l6 6l-6 6l-6 -6zM2605.2 1698.2l6 6l-6 6l-6 -6zM2617.8 1695.2l6 6l-6 6l-6 -6zM2630.4 1688.2l6 6l-6 6l-6 -6zM2642.9 1702.2l6 6l-6 6l-6 -6zM2649.2 1699.2l6 6l-6 6l-6 -6zM2655.5 1700.2l6 6l-6 6l-6 -6zM2661.8 1699.2l6 6l-6 6l-6 -6zM2668.1 1689.2l6 6l-6 6l-6 -6zM2680.7 1699.2l6 6l-6 6l-6 -6zM2699.6 1522.2l6 6l-6 6l-6 -6zM2705.9 1577.2l6 6l-6 6l-6 -6zM2718.4 1588.2l6 6l-6 6l-6 -6zM2724.7 1597.2l6 6l-6 6l-6 -6zM2731.0 1591.2l6 6l-6 6l-6 -6zM2737.3 1600.2l6 6l-6 6l-6 -6zM2743.6 1611.2l6 6l-6 6l-6 -6zM2749.9 1627.2l6 6l-6 6l-6 -6zM2775.1 1630.2l6 6l-6 6l-6 -6zM2781.4 1643.2l6 6l-6 6l-6 -6zM2812.8 1646.2l6 6l-6 6l-6 -6zM2825.4 1652.2l6 6l-6 6l-6 -6zM2838.0 1647.2l6 6l-6 6l-6 -6zM2850.6 1636.2l6 6l-6 6l-6 -6zM2856.9 1423.2l6 6l-6 6l-6 -6zM2875.7 1702.2l6 6l-6 6l-6 -6zM2882.0 1702.2l6 6l-6 6l-6 -6zM2900.9 1706.2l6 6l-6 6l-6 -6zM2919.8 1702.2l6 6l-6 6l-6 -6zM2926.1 1703.2l6 6l-6 6l-6 -6zM2938.6 1703.2l6 6l-6 6l-6 -6zM2944.9 1704.2l6 6l-6 6l-6 -6zM2951.2 1699.2l6 6l-6 6l-6 -6zM2957.5 1707.2l6 6l-6 6l-6 -6zM2970.1 1708.2l6 6l-6 6l-6 -6zM2976.4 1708.2l6 6l-6 6l-6 -6z" fill="#26a69a" fill-opacity="0.17"/>
<path d="M6.9 1705.5l6 6l-6 6l-6 -6zM13.2 1702.5l6 6l-6 6l-6 -6zM19.5 1701.1l6 6l-6 6l-6 -6zM50.9 1696.7l6 6l-6 6l-6 -6zM57.2 1702.2l6 6l-6 6l-6 -6zM63.5 1705.7l6 6l-6 6l-6 -6zM76.1 1705.0l6 6l-6 6l-6 -6zM95.0 1702.5l6 6l-6 6l-6 -6zM101.3 1705.6l6 6l-6 6l-6 -6zM113.8 1701.9l6 6l-6 6l-6 -6zM120.1 1700.3l6 6l-6 6l-6 -6zM157.9 1702.8l6 6l-6 6l-6 -6zM164.2 1705.5l6 6l-6 6l-6 -6zM189.3 1702.7l6 6l-6 6l-6 -6zM214.5 1684.6l6 6l-6 6l-6 -6zM220.8 1687.6l6 6l-6 6l-6 -6zM246.0 1685.1l6 6l-6 6l-6 -6zM252.3 1687.0l6 6l-6 6l-6 -6zM271.1 1685.5l6 6l-6 6l-6 -6zM296.3 1692.3l6 6l-6 6l-6 -6zM308.9 1686.9l6 6l-6 6l-6 -6zM327.7 1681.3l6 6l-6 6l-6 -6zM334.0 1673.6l6 6l-6 6l-6 -6zM352.9 1674.4l6 6l-6 6l-6 -6zM371.8 1667.8l6 6l-6 6l-6 -6zM390.7 1485.2l6 6l-6 6l-6 -6zM397.0 1452.2l6 6l-6 6l-6 -6zM403.2 1525.2l6 6l-6 6l-6 -6zM409.5 1543.2l6 6l-6 6l-6 -6zM415.8 1530.2l6 6l-6 6l-6 -6zM428.4 1586.2l6 6l-6 6l-6 -6zM434.7 1561.2l6 6l-6 6l-6 -6zM441.0 1602.2l6 6l-6 6l-6 -6zM453.6 1607.2l6 6l-6 6l-6 -6zM459.9 1600.2l6 6l-6 6l-6 -6zM472.4 1588.2l6 6l-6 6l-6 -6zM478.7 1617.2l6 6l-6 6l-6 -6zM485.0 1606.2l6 6l-6 6l-6 -6zM491.3 1617.2l6 6l-6 6l-6 -6zM503.9 1618.2l6 6l-6 6l-6 -6zM510.2 1613.2l6 6l-6 6l-6 -6zM516.5 1583.2l6 6l-6 6l-6 -6zM535.4 1447.2l6 6l-6 6l-6 -6zM560.5 1676.2l6 6l-6 6l-6 -6zM573.1 1689.2l6 6l-6 6l-6 -6zM598.3 1703.2l6 6l-6 6l-6 -6zM604.6 1699.2l6 6l-6 6l-6 -6zM610.9 1696.2l6 6l-6 6l-6 -6zM617.1 1693.2l6 6l-6 6l-6 -6zM636.0 1701.2l6 6l-6 6l-6 -6zM642.3 1676.2l6 6l-6 6l-6 -6zM648.6 1691.2l6 6l-6 6l-6 -6zM705.2 1699.2l6 6l-6 6l-6 -6zM711.5 1705.2l6 6l-6 6l-6 -6zM717.8 1704.3l6 6l-6 6l-6 -6zM724.1 1706.1l6 6l-6 6l-6 -6zM730.4 1702.5l6 6l-6 6l-6 -6zM749.3 1701.4l6 6l-6 6l-6 -6zM761.8 1704.8l6 6l-6 6l-6 -6zM787.0 1703.2l6 6l-6 6l-6 -6zM805.9 1694.1l6 6l-6 6l-6 -6zM812.2 1698.7l6 6l-6 6l-6 -6zM868.8 1695.2l6 6l-6 6l-6 -6zM881.4 1690.8l6 6l-6 6l-6 -6zM894.0 1692.4l6 6l-6 6l-6 -6zM900.3 1693.2l6 6l-6 6l-6 -6zM925.4 1681.2l6 6l-6 6l-6 -6zM938.0 1683.2l6 6l-6 6l-6 -6zM944.3 1681.2l6 6l-6 6l-6 -6zM950.6 1671.2l6 6l-6 6l-6 -6zM956.9 1661.2l6 6l-6 6l-6 -6zM969.5 1545.2l6 6l-6 6l-6 -6zM975.8 1434.2l6 6l-6 6l-6 -6zM982.0 1528.2l6 6l-6 6l-6 -6zM988.3 1498.2l6 6l-6 6l-6 -6zM994.6 1528.2l6 6l-6 6l-6 -6zM1007.2 1547.2l6 6l-6 6l-6 -6zM1019.8 1597.2l6 6l-6 6l-6 -6zM1026.1 1579.2l6 6l-6 6l-6 -6zM1038.7 1592.2l6 6l-6 6l-6 -6zM1045.0 1600.2l6 6l-6 6l-6 -6zM1051.2 1621.2l6 6l-6 6l-6 -6zM1057.5 1595.2l6 6l-6 6l-6 -6zM1101.6 1518.2l6 6l-6 6l-6 -6zM1107.9 1557.2l6 6l-6 6l-6 -6zM1114.2 1577.2l6 6l-6 6l-6 -6zM1120.5 1373.2l6 6l-6 6l-6 -6zM1133.0 1688.2l6 6l-6 6l-6 -6zM1139.3 1696.2l6 6l-6 6l-6 -6zM1145.6 1696.2l6 6l-6 6l-6 -6zM1164.5 1699.1l6 6l-6 6l-6 -6zM1170.8 1698.0l6 6l-6 6l-6 -6zM1183.4 1702.6l6 6l-6 6l-6 -6zM1189.7 1701.0l6 6l-6 6l-6 -6zM1195.9 1706.4l6 6l-6 6l-6 -6zM1202.2 1701.4l6 6l-6 6l-6 -6zM1214.8 1700.2l6 6l-6 6l-6 -6zM1221.1 1703.3l6 6l-6 6l-6 -6zM1233.7 1702.0l6 6l-6 6l-6 -6zM1246.3 1705.2l6 6l-6 6l-6 -6zM1252.6 1703.9l6 6l-6 6l-6 -6zM1265.2 1705.6l6 6l-6 6l-6 -6zM1284.0 1705.8l6 6l-6 6l-6 -6zM1296.6 1706.2l6 6l-6 6l-6 -6zM1309.2 1706.0l6 6l-6 6l-6 -6zM1315.5 1705.3l6 6l-6 6l-6 -6zM1321.8 1705.4l6 6l-6 6l-6 -6zM1328.1 1702.6l6 6l-6 6l-6 -6zM1359.5 1707.1l6 6l-6 6l-6 -6zM1372.1 1696.4l6 6l-6 6l-6 -6zM1378.4 1700.3l6 6l-6 6l-6 -6zM1397.3 1695.6l6 6l-6 6l-6 -6zM1403.6 1693.2l6 6l-6 6l-6 -6zM1441.3 1698.8l6 6l-6 6l-6 -6zM1447.6 1700.5l6 6l-6 6l-6 -6zM1460.2 1690.9l6 6l-6 6l-6 -6zM1479.1 1694.3l6 6l-6 6l-6 -6zM1504.2 1690.5l6 6l-6 6l-6 -6zM1529.4 1658.2l6 6l-6 6l-6 -6zM1542.0 1459.2l6 6l-6 6l-6 -6zM1548.3 1457.2l6 6l-6 6l-6 -6zM1554.6 1537.2l6 6l-6 6l-6 -6zM1560.8 1579.2l6 6l-6 6l-6 -6zM1567.1 1568.2l6 6l-6 6l-6 -6zM1573.4 1575.2l6 6l-6 6l-6 -6zM1579.7 1580.2l6 6l-6 6l-6 -6zM1611.2 1615.2l6 6l-6 6l-6 -6zM1617.5 1592.2l6 6l-6 6l-6 -6zM1642.6 1638.2l6 6l-6 6l-6 -6zM1648.9 1609.2l6 6l-6 6l-6 -6zM1680.4 1635.2l6 6l-6 6l-6 -6zM1686.7 1611.2l6 6l-6 6l-6 -6zM1693.0 1596.2l6 6l-6 6l-6 -6zM1699.3 1446.2l6 6l-6 6l-6 -6zM1705.5 1629.2l6 6l-6 6l-6 -6zM1718.1 1703.2l6 6l-6 6l-6 -6zM1743.3 1694.1l6 6l-6 6l-6 -6zM1749.6 1700.0l6 6l-6 6l-6 -6zM1762.2 1701.5l6 6l-6 6l-6 -6zM1806.2 1701.8l6 6l-6 6l-6 -6zM1812.5 1706.0l6 6l-6 6l-6 -6zM1818.8 1701.3l6 6l-6 6l-6 -6zM1825.1 1701.6l6 6l-6 6l-6 -6zM1837.7 1704.4l6 6l-6 6l-6 -6zM1850.2 1701.4l6 6l-6 6l-6 -6zM1856.5 1704.5l6 6l-6 6l-6 -6zM1869.1 1700.2l6 6l-6 6l-6 -6zM1875.4 1701.5l6 6l-6 6l-6 -6zM1888.0 1703.7l6 6l-6 6l-6 -6zM1913.2 1706.4l6 6l-6 6l-6 -6zM1919.4 1702.3l6 6l-6 6l-6 -6zM1925.7 1704.1l6 6l-6 6l-6 -6zM1938.3 1703.0l6 6l-6 6l-6 -6zM1957.2 1701.2l6 6l-6 6l-6 -6zM1963.5 1700.1l6 6l-6 6l-6 -6zM1969.8 1701.6l6 6l-6 6l-6 -6zM1976.1 1696.6l6 6l-6 6l-6 -6zM1994.9 1702.2l6 6l-6 6l-6 -6zM2001.2 1697.5l6 6l-6 6l-6 -6zM2007.5 1699.8l6 6l-6 6l-6 -6zM2020.1 1699.6l6 6l-6 6l-6 -6zM2051.6 1694.2l6 6l-6 6l-6 -6zM2057.9 1698.2l6 6l-6 6l-6 -6zM2064.1 1685.2l6 6l-6 6l-6 -6zM2070.4 1689.2l6 6l-6 6l-6 -6zM2083.0 1680.2l6 6l-6 6l-6 -6zM2120.8 1552.2l6 6l-6 6l-6 -6zM2127.1 1544.2l6 6l-6 6l-6 -6zM2139.6 1561.2l6 6l-6 6l-6 -6zM2145.9 1589.2l6 6l-6 6l-6 -6zM2152.2 1603.2l6 6l-6 6l-6 -6zM2158.5 1608.2l6 6l-6 6l-6 -6zM2164.8 1617.2l6 6l-6 6l-6 -6zM2177.4 1582.2l6 6l-6 6l-6 -6zM2190.0 1627.2l6 6l-6 6l-6 -6zM2202.6 1579.2l6 6l-6 6l-6 -6zM2208.8 1622.2l6 6l-6 6l-6 -6zM2215.1 1616.2l6 6l-6 6l-6 -6zM2221.4 1634.2l6 6l-6 6l-6 -6zM2252.9 1613.2l6 6l-6 6l-6 -6zM2259.2 1606.2l6 6l-6 6l-6 -6zM2265.5 1611.2l6 6l-6 6l-6 -6zM2271.8 1584.2l6 6l-6 6l-6 -6zM2290.6 1691.2l6 6l-6 6l-6 -6zM2296.9 1696.2l6 6l-6 6l-6 -6zM2315.8 1703.2l6 6l-6 6l-6 -6zM2322.1 1695.3l6 6l-6 6l-6 -6zM2341.0 1702.3l6 6l-6 6l-6 -6zM2347.3 1703.8l6 6l-6 6l-6 -6zM2353.5 1702.1l6 6l-6 6l-6 -6zM2359.8 1702.1l6 6l-6 6l-6 -6zM2378.7 1705.2l6 6l-6 6l-6 -6zM2391.3 1699.2l6 6l-6 6l-6 -6zM2397.6 1704.9l6 6l-6 6l-6 -6zM2403.9 1705.9l6 6l-6 6l-6 -6zM2416.5 1707.1l6 6l-6 6l-6 -6zM2429.0 1704.4l6 6l-6 6l-6 -6zM2454.2 1704.3l6 6l-6 6l-6 -6zM2460.5 1705.8l6 6l-6 6l-6 -6zM2485.7 1705.4l6 6l-6 6l-6 -6zM2510.8 1704.7l6 6l-6 6l-6 -6zM2523.4 1693.8l6 6l-6 6l-6 -6zM2536.0 1703.2l6 6l-6 6l-6 -6zM2542.3 1699.5l6 6l-6 6l-6 -6zM2573.7 1697.8l6 6l-6 6l-6 -6zM2580.0 1695.8l6 6l-6 6l-6 -6zM2586.3 1700.7l6 6l-6 6l-6 -6zM2592.6 1700.5l6 6l-6 6l-6 -6zM2611.5 1696.2l6 6l-6 6l-6 -6zM2624.1 1696.2l6 6l-6 6l-6 -6zM2636.7 1699.2l6 6l-6 6l-6 -6zM2674.4 1688.2l6 6l-6 6l-6 -6zM2687.0 1690.2l6 6l-6 6l-6 -6zM2693.3 1682.2l6 6l-6 6l-6 -6zM2712.2 1473.2l6 6l-6 6l-6 -6zM2756.2 1613.2l6 6l-6 6l-6 -6zM2762.5 1627.2l6 6l-6 6l-6 -6zM2768.8 1612.2l6 6l-6 6l-6 -6zM2787.6 1621.2l6 6l-6 6l-6 -6zM2793.9 1643.2l6 6l-6 6l-6 -6zM2800.2 1642.2l6 6l-6 6l-6 -6zM2806.5 1651.2l6 6l-6 6l-6 -6zM2819.1 1661.2l6 6l-6 6l-6 -6zM2831.7 1653.2l6 6l-6 6l-6 -6zM2844.3 1644.2l6 6l-6 6l-6 -6zM2863.1 1593.2l6 6l-6 6l-6 -6zM2869.4 1693.2l6 6l-6 6l-6 -6zM2888.3 1699.2l6 6l-6 6l-6 -6zM2894.6 1704.2l6 6l-6 6l-6 -6zM2907.2 1700.2l6 6l-6 6l-6 -6zM2913.5 1699.2l6 6l-6 6l-6 -6zM2932.3 1707.2l6 6l-6 6l-6 -6zM2963.8 1707.2l6 6l-6 6l-6 -6z" fill="#ef5350" fill-opacity="0.15"/>
<path d="M0.6 1710.7H6.9M25.8 1707.1V1707.9H32.1M32.1 1707.9V1711.3H38.3M38.3 1711.3V1703.9H44.6M44.6 1703.9V1710.0H50.9M69.8 1711.7V1709.3H76.1M82.4 1711.0V1704.0H88.7M88.7 1704.0V1706.4H95.0M107.6 1711.6V1710.1H113.8M126.4 1706.3V1709.2H132.7M132.7 1709.2V1705.2H139.0M139.0 1705.2V1706.5H145.3M145.3 1706.5V1710.0H151.6M151.6 1710.0V1707.9H157.9M170.5 1711.5V1707.3H176.8M176.8 1707.3V1712.5H183.0M183.0 1712.5V1710.7H189.3M195.6 1708.7V1712.3H201.9M201.9 1712.3V1710.3H208.2M208.2 1710.3V1693.6H214.5M227.1 1693.6V1690.7H233.4M233.4 1690.7V1693.3H239.7M239.7 1693.3V1684.9H246.0M258.5 1693.0V1685.4H264.8M264.8 1685.4V1694.3H271.1M277.4 1691.5V1696.6H283.7M283.7 1696.6V1700.6H290.0M290.0 1700.6V1694.0H296.3M302.6 1698.3V1687.6H308.9M315.2 1692.9V1683.3H321.5M321.5 1683.3V1680.3H327.7M340.3 1679.6V1683.2H346.6M346.6 1683.2V1685.4H352.9M359.2 1680.4V1679.3H365.5M365.5 1679.3V1679.3H371.8M378.1 1673.8V1667.2H384.4M384.4 1667.2V1434.2H390.7M422.1 1536.2V1550.2H428.4M447.3 1608.2V1629.2H453.6M466.2 1606.2V1645.2H472.4M497.6 1623.2V1576.2H503.9M522.8 1589.2V1534.2H529.1M529.1 1534.2V1496.2H535.4M541.7 1453.2V1289.2H547.9M547.9 1289.2V1592.2H554.2M554.2 1592.2V1681.2H560.5M566.8 1682.2V1697.2H573.1M579.4 1695.2V1699.2H585.7M585.7 1699.2V1702.2H592.0M592.0 1702.2V1706.2H598.3M623.4 1699.2V1706.2H629.7M629.7 1706.2V1705.2H636.0M654.9 1697.2V1702.2H661.2M661.2 1702.2V1706.2H667.5M667.5 1706.2V1707.2H673.8M673.8 1707.2V1704.2H680.1M680.1 1704.2V1696.2H686.4M686.4 1696.2V1706.2H692.6M692.6 1706.2V1708.2H698.9M698.9 1708.2V1693.2H705.2M736.7 1708.5V1711.2H743.0M743.0 1711.2V1708.4H749.3M755.6 1707.4V1710.8H761.8M768.1 1710.8V1707.5H774.4M774.4 1707.5V1708.9H780.7M780.7 1708.9V1712.2H787.0M793.3 1709.2V1699.3H799.6M799.6 1699.3V1703.7H805.9M818.5 1704.7V1710.3H824.8M824.8 1710.3V1700.2H831.1M831.1 1700.2V1700.6H837.3M837.3 1700.6V1701.6H843.6M843.6 1701.6V1704.6H849.9M849.9 1704.6V1707.3H856.2M856.2 1707.3V1705.1H862.5M862.5 1705.1V1706.3H868.8M875.1 1701.2V1702.6H881.4M887.7 1696.8V1696.7H894.0M906.5 1699.2V1704.2H912.8M912.8 1704.2V1693.2H919.1M919.1 1693.2V1701.2H925.4M931.7 1687.2V1681.2H938.0M963.2 1667.2V1462.2H969.5M1000.9 1534.2V1528.2H1007.2M1013.5 1553.2V1590.2H1019.8M1032.4 1585.2V1609.2H1038.7M1063.8 1601.2V1606.2H1070.1M1070.1 1606.2V1584.2H1076.4M1076.4 1584.2V1548.2H1082.7M1082.7 1548.2V1583.2H1089.0M1089.0 1583.2V1565.2H1095.3M1095.3 1565.2V1528.2H1101.6M1126.7 1379.2V1580.2H1133.0M1151.9 1702.2V1706.2H1158.2M1158.2 1706.2V1700.8H1164.5M1177.1 1704.0V1707.3H1183.4M1208.5 1707.4V1709.0H1214.8M1227.4 1709.3V1712.8H1233.7M1240.0 1708.0V1710.5H1246.3M1258.9 1709.9V1707.6H1265.2M1271.4 1711.6V1712.4H1277.7M1277.7 1712.4V1710.0H1284.0M1290.3 1711.8V1712.5H1296.6M1302.9 1712.2V1712.9H1309.2M1334.4 1708.6V1711.5H1340.6M1340.6 1711.5V1710.2H1346.9M1346.9 1710.2V1712.1H1353.2M1353.2 1712.1V1711.1H1359.5M1365.8 1713.1V1709.6H1372.1M1384.7 1706.3V1704.7H1391.0M1391.0 1704.7V1702.8H1397.3M1409.9 1699.2V1699.2H1416.1M1416.1 1699.2V1702.5H1422.4M1422.4 1702.5V1701.9H1428.7M1428.7 1701.9V1706.0H1435.0M1435.0 1706.0V1709.8H1441.3M1453.9 1706.5V1701.2H1460.2M1466.5 1696.9V1703.0H1472.8M1472.8 1703.0V1700.3H1479.1M1485.3 1700.3V1694.6H1491.6M1491.6 1694.6V1692.8H1497.9M1497.9 1692.8V1692.9H1504.2M1510.5 1696.5V1686.2H1516.8M1516.8 1686.2V1542.2H1523.1M1523.1 1542.2V1658.2H1529.4M1535.7 1664.2V1663.2H1542.0M1586.0 1586.2V1597.2H1592.3M1592.3 1597.2V1624.2H1598.6M1598.6 1624.2V1603.2H1604.9M1604.9 1603.2V1611.2H1611.2M1623.8 1598.2V1622.2H1630.0M1630.0 1622.2V1637.2H1636.3M1636.3 1637.2V1651.2H1642.6M1655.2 1615.2V1624.2H1661.5M1661.5 1624.2V1654.2H1667.8M1667.8 1654.2V1657.2H1674.1M1674.1 1657.2V1644.2H1680.4M1711.8 1635.2V1706.2H1718.1M1724.4 1709.2V1700.2H1730.7M1730.7 1700.2V1708.2H1737.0M1737.0 1708.2V1698.6H1743.3M1755.9 1706.0V1711.3H1762.2M1768.5 1707.5V1709.7H1774.7M1774.7 1709.7V1711.8H1781.0M1781.0 1711.8V1706.4H1787.3M1787.3 1706.4V1708.0H1793.6M1793.6 1708.0V1708.2H1799.9M1799.9 1708.2V1709.9H1806.2M1831.4 1707.6V1713.1H1837.7M1844.0 1710.4V1708.3H1850.2M1862.8 1710.5V1711.6H1869.1M1881.7 1707.5V1711.9H1888.0M1894.3 1709.7V1712.3H1900.6M1900.6 1712.3V1710.1H1906.9M1906.9 1710.1V1707.5H1913.2M1932.0 1710.1V1707.9H1938.3M1944.6 1709.0V1702.6H1950.9M1950.9 1702.6V1708.1H1957.2M1982.4 1702.6V1697.2H1988.7M1988.7 1697.2V1696.2H1994.9M2013.8 1705.8V1700.5H2020.1M2026.4 1705.6V1696.2H2032.7M2032.7 1696.2V1702.2H2039.0M2039.0 1702.2V1705.2H2045.3M2045.3 1705.2V1708.2H2051.6M2076.7 1695.2V1673.2H2083.0M2089.3 1686.2V1695.2H2095.6M2095.6 1695.2V1661.2H2101.9M2101.9 1661.2V1682.2H2108.2M2108.2 1682.2V1683.2H2114.5M2114.5 1683.2V1687.2H2120.8M2133.4 1550.2V1547.2H2139.6M2171.1 1623.2V1529.2H2177.4M2183.7 1588.2V1605.2H2190.0M2196.3 1633.2V1596.2H2202.6M2227.7 1640.2V1633.2H2234.0M2234.0 1633.2V1608.2H2240.3M2240.3 1608.2V1630.2H2246.6M2246.6 1630.2V1635.2H2252.9M2278.1 1590.2V1411.2H2284.3M2284.3 1411.2V1602.2H2290.6M2303.2 1702.2V1708.2H2309.5M2309.5 1708.2V1704.2H2315.8M2328.4 1701.3V1701.7H2334.7M2334.7 1701.7V1706.3H2341.0M2366.1 1708.1V1685.2H2372.4M2372.4 1685.2V1688.2H2378.7M2385.0 1711.2V1702.2H2391.3M2410.2 1711.9V1709.6H2416.5M2422.8 1713.1V1711.4H2429.0M2435.3 1710.4V1707.4H2441.6M2441.6 1707.4V1709.3H2447.9M2447.9 1709.3V1707.9H2454.2M2466.8 1711.8V1711.7H2473.1M2473.1 1711.7V1707.4H2479.4M2479.4 1707.4V1709.0H2485.7M2492.0 1711.4V1713.1H2498.2M2498.2 1713.1V1710.2H2504.5M2504.5 1710.2V1709.2H2510.8M2517.1 1710.7V1711.7H2523.4M2529.7 1699.8V1709.6H2536.0M2548.6 1705.5V1700.5H2554.9M2554.9 1700.5V1706.5H2561.2M2561.2 1706.5V1706.2H2567.5M2567.5 1706.2V1704.4H2573.7M2598.9 1706.5V1699.6H2605.2M2605.2 1699.6V1704.2H2611.5M2617.8 1702.2V1701.2H2624.1M2630.4 1702.2V1694.2H2636.7M2642.9 1705.2V1708.2H2649.2M2649.2 1708.2V1705.2H2655.5M2655.5 1705.2V1706.2H2661.8M2661.8 1706.2V1705.2H2668.1M2668.1 1705.2V1695.2H2674.4M2680.7 1694.2V1705.2H2687.0M2699.6 1688.2V1528.2H2705.9M2705.9 1528.2V1583.2H2712.2M2718.4 1479.2V1594.2H2724.7M2724.7 1594.2V1603.2H2731.0M2731.0 1603.2V1597.2H2737.3M2737.3 1597.2V1606.2H2743.6M2743.6 1606.2V1617.2H2749.9M2749.9 1617.2V1633.2H2756.2M2775.1 1618.2V1636.2H2781.4M2781.4 1636.2V1649.2H2787.6M2812.8 1657.2V1652.2H2819.1M2825.4 1667.2V1658.2H2831.7M2838.0 1659.2V1653.2H2844.3M2850.6 1650.2V1642.2H2856.9M2856.9 1642.2V1429.2H2863.1M2875.7 1699.2V1708.2H2882.0M2882.0 1708.2V1708.2H2888.3M2900.9 1710.2V1712.2H2907.2M2919.8 1705.2V1708.2H2926.1M2926.1 1708.2V1709.2H2932.3M2938.6 1713.2V1709.2H2944.9M2944.9 1709.2V1710.2H2951.2M2951.2 1710.2V1705.2H2957.5M2957.5 1705.2V1713.2H2963.8M2970.1 1713.2V1714.2H2976.4M2976.4 1714.2V1714.2H2982.7" stroke="#26a69a" stroke-opacity="0.37" stroke-width="1.1" fill="none"/>
<path d="M6.9 1710.7V1711.5H13.2M13.2 1711.5V1708.5H19.5M19.5 1708.5V1707.1H25.8M50.9 1710.0V1702.7H57.2M57.2 1702.7V1708.2H63.5M63.5 1708.2V1711.7H69.8M76.1 1709.3V1711.0H82.4M95.0 1706.4V1708.5H101.3M101.3 1708.5V1711.6H107.6M113.8 1710.1V1707.9H120.1M120.1 1707.9V1706.3H126.4M157.9 1707.9V1708.8H164.2M164.2 1708.8V1711.5H170.5M189.3 1710.7V1708.7H195.6M214.5 1693.6V1690.6H220.8M220.8 1690.6V1693.6H227.1M246.0 1684.9V1691.1H252.3M252.3 1691.1V1693.0H258.5M271.1 1694.3V1691.5H277.4M296.3 1694.0V1698.3H302.6M308.9 1687.6V1692.9H315.2M327.7 1680.3V1687.3H334.0M334.0 1687.3V1679.6H340.3M352.9 1685.4V1680.4H359.2M371.8 1679.3V1673.8H378.1M390.7 1434.2V1491.2H397.0M397.0 1491.2V1458.2H403.2M403.2 1458.2V1531.2H409.5M409.5 1531.2V1549.2H415.8M415.8 1549.2V1536.2H422.1M428.4 1550.2V1592.2H434.7M434.7 1592.2V1567.2H441.0M441.0 1567.2V1608.2H447.3M453.6 1629.2V1613.2H459.9M459.9 1613.2V1606.2H466.2M472.4 1645.2V1594.2H478.7M478.7 1594.2V1623.2H485.0M485.0 1623.2V1612.2H491.3M491.3 1612.2V1623.2H497.6M503.9 1576.2V1624.2H510.2M510.2 1624.2V1619.2H516.5M516.5 1619.2V1589.2H522.8M535.4 1496.2V1453.2H541.7M560.5 1681.2V1682.2H566.8M573.1 1697.2V1695.2H579.4M598.3 1706.2V1709.2H604.6M604.6 1709.2V1705.2H610.9M610.9 1705.2V1702.2H617.1M617.1 1702.2V1699.2H623.4M636.0 1705.2V1707.2H642.3M642.3 1707.2V1682.2H648.6M648.6 1682.2V1697.2H654.9M705.2 1693.2V1705.2H711.5M711.5 1705.2V1711.2H717.8M717.8 1711.2V1710.3H724.1M724.1 1710.3V1712.1H730.4M730.4 1712.1V1708.5H736.7M749.3 1708.4V1707.4H755.6M761.8 1710.8V1710.8H768.1M787.0 1712.2V1709.2H793.3M805.9 1703.7V1700.1H812.2M812.2 1700.1V1704.7H818.5M868.8 1706.3V1701.2H875.1M881.4 1702.6V1696.8H887.7M894.0 1696.7V1698.4H900.3M900.3 1698.4V1699.2H906.5M925.4 1701.2V1687.2H931.7M938.0 1681.2V1689.2H944.3M944.3 1689.2V1687.2H950.6M950.6 1687.2V1677.2H956.9M956.9 1677.2V1667.2H963.2M969.5 1462.2V1551.2H975.8M975.8 1551.2V1440.2H982.0M982.0 1440.2V1534.2H988.3M988.3 1534.2V1504.2H994.6M994.6 1504.2V1534.2H1000.9M1007.2 1528.2V1553.2H1013.5M1019.8 1590.2V1603.2H1026.1M1026.1 1603.2V1585.2H1032.4M1038.7 1609.2V1598.2H1045.0M1045.0 1598.2V1606.2H1051.2M1051.2 1606.2V1627.2H1057.5M1057.5 1627.2V1601.2H1063.8M1101.6 1528.2V1524.2H1107.9M1107.9 1524.2V1563.2H1114.2M1114.2 1563.2V1583.2H1120.5M1120.5 1583.2V1379.2H1126.7M1133.0 1580.2V1694.2H1139.3M1139.3 1694.2V1702.2H1145.6M1145.6 1702.2V1702.2H1151.9M1164.5 1700.8V1705.1H1170.8M1170.8 1705.1V1704.0H1177.1M1183.4 1707.3V1708.6H1189.7M1189.7 1708.6V1707.0H1195.9M1195.9 1707.0V1712.4H1202.2M1202.2 1712.4V1707.4H1208.5M1214.8 1709.0V1706.2H1221.1M1221.1 1706.2V1709.3H1227.4M1233.7 1712.8V1708.0H1240.0M1246.3 1710.5V1711.2H1252.6M1252.6 1711.2V1709.9H1258.9M1265.2 1707.6V1711.6H1271.4M1284.0 1710.0V1711.8H1290.3M1296.6 1712.5V1712.2H1302.9M1309.2 1712.9V1712.0H1315.5M1315.5 1712.0V1711.3H1321.8M1321.8 1711.3V1711.4H1328.1M1328.1 1711.4V1708.6H1334.4M1359.5 1711.1V1713.1H1365.8M1372.1 1709.6V1702.4H1378.4M1378.4 1702.4V1706.3H1384.7M1397.3 1702.8V1701.6H1403.6M1403.6 1701.6V1699.2H1409.9M1441.3 1709.8V1704.8H1447.6M1447.6 1704.8V1706.5H1453.9M1460.2 1701.2V1696.9H1466.5M1479.1 1700.3V1700.3H1485.3M1504.2 1692.9V1696.5H1510.5M1529.4 1658.2V1664.2H1535.7M1542.0 1663.2V1465.2H1548.3M1548.3 1465.2V1463.2H1554.6M1554.6 1463.2V1543.2H1560.8M1560.8 1543.2V1585.2H1567.1M1567.1 1585.2V1574.2H1573.4M1573.4 1574.2V1581.2H1579.7M1579.7 1581.2V1586.2H1586.0M1611.2 1611.2V1621.2H1617.5M1617.5 1621.2V1598.2H1623.8M1642.6 1651.2V1644.2H1648.9M1648.9 1644.2V1615.2H1655.2M1680.4 1644.2V1641.2H1686.7M1686.7 1641.2V1617.2H1693.0M1693.0 1617.2V1602.2H1699.3M1699.3 1602.2V1452.2H1705.5M1705.5 1452.2V1635.2H1711.8M1718.1 1706.2V1709.2H1724.4M1743.3 1698.6V1700.1H1749.6M1749.6 1700.1V1706.0H1755.9M1762.2 1711.3V1707.5H1768.5M1806.2 1709.9V1707.8H1812.5M1812.5 1707.8V1712.0H1818.8M1818.8 1712.0V1707.3H1825.1M1825.1 1707.3V1707.6H1831.4M1837.7 1713.1V1710.4H1844.0M1850.2 1708.3V1707.4H1856.5M1856.5 1707.4V1710.5H1862.8M1869.1 1711.6V1706.2H1875.4M1875.4 1706.2V1707.5H1881.7M1888.0 1711.9V1709.7H1894.3M1913.2 1707.5V1712.4H1919.4M1919.4 1712.4V1708.3H1925.7M1925.7 1708.3V1710.1H1932.0M1938.3 1707.9V1709.0H1944.6M1957.2 1708.1V1707.2H1963.5M1963.5 1707.2V1706.1H1969.8M1969.8 1706.1V1707.6H1976.1M1976.1 1707.6V1702.6H1982.4M1994.9 1696.2V1708.2H2001.2M2001.2 1708.2V1703.5H2007.5M2007.5 1703.5V1705.8H2013.8M2020.1 1700.5V1705.6H2026.4M2051.6 1708.2V1700.2H2057.9M2057.9 1700.2V1704.2H2064.1M2064.1 1704.2V1691.2H2070.4M2070.4 1691.2V1695.2H2076.7M2083.0 1673.2V1686.2H2089.3M2120.8 1687.2V1558.2H2127.1M2127.1 1558.2V1550.2H2133.4M2139.6 1547.2V1567.2H2145.9M2145.9 1567.2V1595.2H2152.2M2152.2 1595.2V1609.2H2158.5M2158.5 1609.2V1614.2H2164.8M2164.8 1614.2V1623.2H2171.1M2177.4 1529.2V1588.2H2183.7M2190.0 1605.2V1633.2H2196.3M2202.6 1596.2V1585.2H2208.8M2208.8 1585.2V1628.2H2215.1M2215.1 1628.2V1622.2H2221.4M2221.4 1622.2V1640.2H2227.7M2252.9 1635.2V1619.2H2259.2M2259.2 1619.2V1612.2H2265.5M2265.5 1612.2V1617.2H2271.8M2271.8 1617.2V1590.2H2278.1M2290.6 1602.2V1697.2H2296.9M2296.9 1697.2V1702.2H2303.2M2315.8 1704.2V1709.2H2322.1M2322.1 1709.2V1701.3H2328.4M2341.0 1706.3V1708.3H2347.3M2347.3 1708.3V1709.8H2353.5M2353.5 1709.8V1708.1H2359.8M2359.8 1708.1V1708.1H2366.1M2378.7 1688.2V1711.2H2385.0M2391.3 1702.2V1705.2H2397.6M2397.6 1705.2V1710.9H2403.9M2403.9 1710.9V1711.9H2410.2M2416.5 1709.6V1713.1H2422.8M2429.0 1711.4V1710.4H2435.3M2454.2 1707.9V1710.3H2460.5M2460.5 1710.3V1711.8H2466.8M2485.7 1709.0V1711.4H2492.0M2510.8 1709.2V1710.7H2517.1M2523.4 1711.7V1699.8H2529.7M2536.0 1709.6V1709.2H2542.3M2542.3 1709.2V1705.5H2548.6M2573.7 1704.4V1703.8H2580.0M2580.0 1703.8V1701.8H2586.3M2586.3 1701.8V1706.7H2592.6M2592.6 1706.7V1706.5H2598.9M2611.5 1704.2V1702.2H2617.8M2624.1 1701.2V1702.2H2630.4M2636.7 1694.2V1705.2H2642.9M2674.4 1695.2V1694.2H2680.7M2687.0 1705.2V1696.2H2693.3M2693.3 1696.2V1688.2H2699.6M2712.2 1583.2V1479.2H2718.4M2756.2 1633.2V1619.2H2762.5M2762.5 1619.2V1633.2H2768.8M2768.8 1633.2V1618.2H2775.1M2787.6 1649.2V1627.2H2793.9M2793.9 1627.2V1649.2H2800.2M2800.2 1649.2V1648.2H2806.5M2806.5 1648.2V1657.2H2812.8M2819.1 1652.2V1667.2H2825.4M2831.7 1658.2V1659.2H2838.0M2844.3 1653.2V1650.2H2850.6M2863.1 1429.2V1599.2H2869.4M2869.4 1599.2V1699.2H2875.7M2888.3 1708.2V1705.2H2894.6M2894.6 1705.2V1710.2H2900.9M2907.2 1712.2V1706.2H2913.5M2913.5 1706.2V1705.2H2919.8M2932.3 1709.2V1713.2H2938.6M2963.8 1713.2V1713.2H2970.1" stroke="#ef5350" stroke-opacity="0.37" stroke-width="1.1" fill="none"/>
<path d="M3.6 321.9 L9.9 287.0 L16.2 349.3 L22.5 405.4 L28.8 341.8 L35.1 336.8 L41.3 331.9 L47.6 300.7 L53.9 335.6 L60.2 294.5 L66.5 269.6 L72.8 243.4 L79.1 260.9 L85.4 233.5 L91.7 206.8 L98.0 217.3 L104.3 215.3 L110.6 195.6 L116.8 195.6 L123.1 217.3 L129.4 222.7 L135.7 181.6 L142.0 196.6 L148.3 181.1 L154.6 170.4 L160.9 187.4 L167.2 203.6 L173.5 188.6 L179.8 173.7 L186.0 206.1 L192.3 213.5 L198.6 187.4 L204.9 185.4 L211.2 183.6 L217.5 187.4 L223.8 174.4 L230.1 201.1 L236.4 175.7 L242.7 203.6 L249.0 279.5 L255.3 257.1 L261.5 356.8 L267.8 445.2 L274.1 431.5 L280.4 361.8 L286.7 288.3 L293.0 323.1 L299.3 311.9 L305.6 334.4 L311.9 356.8 L318.2 363.0 L324.5 336.8 L330.7 310.7 L337.0 336.8 L343.3 348.1 L349.6 416.6 L355.9 426.5 L362.2 389.2 L368.5 354.3 L374.8 368.0 L381.1 407.8 L387.4 262.0 L393.7 372.3 L400.0 500.5 L406.2 564.5 L412.5 587.3 L418.8 536.0 L425.1 432.8 L431.4 466.7 L437.7 489.8 L444.0 516.5 L450.3 461.3 L456.6 475.6 L462.9 532.5 L469.2 571.6 L475.4 606.6 L481.7 642.3 L488.0 752.5 L494.3 797.6 L500.6 827.7 L506.9 872.1 L513.2 876.8 L519.5 980.8 L525.8 948.2 L532.1 767.5 L538.4 759.7 L544.7 782.0 L550.9 767.5 L557.2 772.1 L563.5 746.3 L569.8 740.1 L576.1 763.4 L582.4 738.6 L588.7 729.3 L595.0 782.0 L601.3 806.9 L607.6 838.6 L613.9 847.9 L620.1 829.6 L626.4 841.1 L632.7 806.3 L639.0 870.6 L645.3 932.7 L651.6 1014.8 L657.9 926.5 L664.2 862.8 L670.5 869.6 L676.8 765.0 L683.1 740.1 L689.4 729.9 L695.6 721.5 L701.9 642.3 L708.2 675.8 L714.5 677.1 L720.8 688.0 L727.1 673.4 L733.4 630.5 L739.7 650.1 L746.0 650.1 L752.3 642.3 L758.6 634.5 L764.8 671.8 L771.1 636.1 L777.4 637.6 L783.7 645.4 L790.0 635.5 L796.3 670.2 L802.6 661.9 L808.9 664.0 L815.2 699.8 L821.5 614.3 L827.8 595.0 L834.1 555.1 L840.3 555.1 L846.6 527.4 L852.9 509.6 L859.2 493.2 L865.5 528.1 L871.8 501.3 L878.1 523.8 L884.4 489.9 L890.7 510.7 L897.0 513.8 L903.3 521.7 L909.5 534.9 L915.8 505.7 L922.1 502.7 L928.4 605.0 L934.7 550.6 L941.0 591.1 L947.3 620.6 L953.6 647.0 L959.9 732.4 L966.2 611.2 L972.5 684.2 L978.8 833.3 L985.0 923.4 L991.3 942.0 L997.6 982.4 L1003.9 802.2 L1010.2 822.4 L1016.5 696.6 L1022.8 817.8 L1029.1 929.6 L1035.4 870.6 L1041.7 881.4 L1048.0 945.1 L1060.5 1056.8 L1066.8 963.7 L1073.1 962.8 L1079.4 760.3 L1085.7 715.3 L1092.0 546.6 L1098.3 506.7 L1104.6 604.8 L1110.9 610.1 L1117.2 605.4 L1123.5 777.8 L1129.7 686.5 L1136.0 737.4 L1142.3 730.6 L1148.6 732.1 L1154.9 685.5 L1161.2 702.0 L1167.5 669.1 L1173.8 656.0 L1180.1 651.4 L1186.4 680.2 L1192.7 685.5 L1198.9 652.0 L1205.2 652.0 L1211.5 626.5 L1217.8 670.0 L1224.1 651.4 L1230.4 663.8 L1236.7 682.4 L1243.0 656.0 L1249.3 649.8 L1255.6 622.5 L1261.9 637.4 L1268.2 663.8 L1274.4 678.4 L1280.7 678.4 L1287.0 688.0 L1293.3 680.2 L1299.6 689.6 L1305.9 677.8 L1312.2 652.3 L1318.5 660.7 L1324.8 675.6 L1331.1 656.6 L1337.4 666.3 L1343.6 633.7 L1349.9 631.2 L1356.2 663.8 L1362.5 677.1 L1368.8 673.1 L1375.1 717.5 L1381.4 715.7 L1387.7 684.0 L1394.0 660.7 L1400.3 644.2 L1406.6 633.7 L1412.9 686.5 L1419.1 617.2 L1425.4 566.0 L1431.7 590.2 L1438.0 590.2 L1444.3 641.1 L1450.6 613.2 L1456.9 660.7 L1463.2 672.2 L1469.5 660.7 L1475.8 635.8 L1482.1 614.1 L1488.3 604.8 L1494.6 612.5 L1500.9 619.7 L1507.2 600.1 L1513.5 530.2 L1519.8 477.5 L1526.1 434.0 L1532.4 492.0 L1538.7 469.7 L1545.0 640.5 L1551.3 664.7 L1557.6 711.0 L1563.8 717.2 L1570.1 860.1 L1576.4 884.9 L1582.7 883.4 L1589.0 813.8 L1595.3 785.8 L1601.6 816.0 L1607.9 759.1 L1614.2 752.9 L1620.5 781.8 L1626.8 784.3 L1633.0 689.6 L1639.3 610.1 L1645.6 628.1 L1651.9 771.6 L1658.2 653.9 L1664.5 592.4 L1670.8 555.1 L1677.1 566.0 L1683.4 604.8 L1689.7 652.9 L1696.0 671.6 L1702.3 733.7 L1708.5 737.4 L1714.8 749.2 L1721.1 767.8 L1727.4 761.6 L1733.7 741.4 L1740.0 722.2 L1746.3 724.3 L1752.6 719.7 L1758.9 696.4 L1765.2 705.7 L1771.5 687.1 L1777.7 667.8 L1784.0 651.4 L1790.3 675.3 L1796.6 693.9 L1802.9 701.7 L1809.2 710.4 L1815.5 698.0 L1821.8 704.8 L1828.1 684.9 L1834.4 675.6 L1840.7 702.0 L1847.0 701.1 L1853.2 713.5 L1859.5 724.3 L1865.8 743.0 L1872.1 770.3 L1878.4 780.9 L1884.7 771.6 L1891.0 794.3 L1897.3 833.7 L1903.6 828.4 L1909.9 832.8 L1916.2 825.3 L1922.4 867.9 L1928.7 853.3 L1935.0 894.3 L1941.3 873.5 L1947.6 873.5 L1953.9 828.1 L1960.2 862.6 L1966.5 835.3 L1972.8 902.0 L1979.1 931.6 L1985.4 909.2 L1991.7 843.7 L1997.9 872.5 L2004.2 826.9 L2010.5 814.2 L2016.8 770.1 L2023.1 748.3 L2029.4 726.0 L2035.7 718.2 L2042.0 718.2 L2048.3 708.9 L2054.6 742.1 L2060.9 763.2 L2067.1 772.2 L2073.4 824.4 L2079.7 785.6 L2086.0 871.0 L2092.3 844.6 L2098.6 771.6 L2104.9 748.3 L2111.2 731.2 L2117.5 713.2 L2123.8 703.3 L2130.1 902.7 L2136.4 762.3 L2142.6 799.6 L2148.9 876.3 L2155.2 920.7 L2161.5 989.0 L2167.8 1007.6 L2174.1 1026.9 L2180.4 1108.1 L2186.7 1109.9 L2193.0 1108.1 L2199.3 1060.9 L2205.6 1080.4 L2211.8 1175.2 L2218.1 1231.7 L2224.4 1286.0 L2230.7 1300.0 L2237.0 1130.1 L2243.3 1132.3 L2249.6 1057.8 L2255.9 1047.1 L2262.2 1042.4 L2268.5 1129.2 L2274.8 1143.2 L2281.1 1157.1 L2287.3 1086.3 L2293.6 1092.5 L2299.9 1100.6 L2306.2 1094.4 L2312.5 1010.7 L2318.8 1020.7 L2325.1 989.9 L2331.4 989.0 L2337.7 958.6 L2344.0 975.0 L2350.3 981.2 L2356.5 986.5 L2362.8 970.4 L2369.1 953.3 L2375.4 917.6 L2381.7 934.7 L2388.0 912.9 L2394.3 927.5 L2400.6 902.0 L2406.9 923.8 L2413.2 891.2 L2419.5 891.2 L2425.8 904.2 L2432.0 891.8 L2438.3 885.6 L2444.6 875.7 L2450.9 870.4 L2457.2 880.9 L2463.5 883.4 L2469.8 890.6 L2476.1 884.3 L2482.4 880.9 L2488.7 868.8 L2495.0 888.7 L2501.2 904.2 L2507.5 910.4 L2513.8 932.5 L2520.1 935.6 L2526.4 921.6 L2532.7 909.2 L2539.0 944.0 L2545.3 942.4 L2551.6 927.8 L2557.9 952.7 L2564.2 955.8 L2570.5 891.2 L2576.7 906.7 L2583.0 898.9 L2589.3 885.6 L2595.6 898.3 L2601.9 905.8 L2608.2 890.2 L2614.5 923.2 L2620.8 916.7 L2627.1 921.5 L2633.4 901.0 L2639.7 919.5 L2645.9 908.1 L2652.2 893.9 L2658.5 899.0 L2664.8 899.0 L2671.1 848.4 L2677.4 852.6 L2683.7 846.1 L2690.0 861.2 L2696.3 864.0 L2702.6 819.3 L2708.9 773.4 L2715.2 874.8 L2721.4 832.7 L2727.7 739.0 L2734.0 658.1 L2740.3 619.5 L2746.6 579.6 L2752.9 521.8 L2759.2 542.3 L2765.5 599.6 L2771.8 663.1 L2778.1 587.1 L2784.4 535.3 L2790.6 562.2 L2796.9 579.1 L2803.2 616.5 L2809.5 634.9 L2815.8 617.7 L2822.1 608.3 L2828.4 547.2 L2834.7 565.2 L2841.0 503.7 L2847.3 546.0 L2853.6 570.4 L2859.9 502.4 L2866.1 559.2 L2872.4 560.2 L2878.7 565.9 L2885.0 581.6 L2891.3 644.9 L2897.6 655.6 L2903.9 658.1 L2910.2 710.9 L2916.5 702.2 L2922.8 683.7 L2929.1 687.5 L2935.3 707.9 L2941.6 696.7 L2947.9 684.2 L2954.2 681.2 L2960.5 666.8 L2966.8 674.8 L2973.1 671.3 L2979.4 673.5" stroke="#4caf50" stroke-width="2.85" fill="none" stroke-linejoin="round" stroke-linecap="round"/>
<path d="M3.6 344.3 L9.9 324.4 L16.2 390.4 L22.5 369.2 L28.8 341.8 L35.1 369.2 L41.3 356.8 L47.6 345.6 L53.9 378.0 L60.2 334.4 L66.5 311.9 L72.8 289.0 L79.1 294.5 L85.4 254.6 L91.7 218.5 L98.0 224.0 L104.3 234.7 L110.6 209.0 L116.8 214.0 L123.1 235.9 L129.4 257.6 L135.7 211.8 L142.0 229.7 L148.3 207.3 L154.6 199.8 L160.9 234.7 L167.2 267.1 L173.5 244.7 L179.8 229.7 L186.0 254.6 L192.3 279.5 L198.6 249.7 L204.9 249.7 L211.2 244.2 L217.5 250.9 L223.8 242.7 L230.1 269.6 L236.4 235.5 L242.7 279.5 L249.0 354.3 L255.3 341.8 L261.5 399.1 L267.8 463.9 L274.1 467.6 L280.4 411.6 L286.7 359.3 L293.0 406.6 L299.3 421.5 L305.6 442.7 L311.9 465.1 L318.2 458.9 L324.5 424.0 L330.7 391.7 L337.0 446.5 L343.3 471.4 L381.1 572.4 L387.4 574.0 L393.7 678.0 L400.0 799.1 L412.5 920.2 L418.8 1035.0 L425.1 960.6 L431.4 924.9 L437.7 963.7 L444.0 988.0 L450.3 960.6 L462.9 1059.9 L469.2 1050.6 L475.4 1111.1 L481.7 1099.3 L488.0 1175.7 L494.3 1193.4 L500.6 1177.3 L506.9 1207.4 L513.2 1227.0 L519.5 1337.8 L525.8 1329.4 L532.1 1203.4 L538.4 1258.6 L544.7 1161.7 L550.9 1159.3 L557.2 1139.1 L563.5 1149.3 L569.8 1149.9 L576.1 1257.1 L582.4 1226.6 L588.7 1208.9 L595.0 1283.5 L601.3 1322.3 L607.6 1369.1 L613.9 1389.2 L620.1 1386.1 L626.4 1415.6 L632.7 1371.2 L639.0 1440.5 L645.3 1510.4 L651.6 1578.7 L657.9 1515.0 L664.2 1449.8 L670.5 1456.0 L676.8 1330.1 L683.1 1275.7 L689.4 1282.9 L695.6 1263.3 L701.9 1143.1 L708.2 1180.1 L714.5 1170.1 L720.8 1200.2 L727.1 1177.9 L733.4 1119.8 L739.7 1158.6 L746.0 1159.3 L752.3 1152.4 L758.6 1140.0 L764.8 1166.1 L771.1 1142.2 L777.4 1131.9 L783.7 1115.8 L790.0 1115.8 L796.3 1146.8 L802.6 1161.7 L808.9 1157.7 L815.2 1219.8 L821.5 1120.4 L827.8 1038.1 L834.1 1018.6 L840.3 1049.0 L846.6 1020.1 L852.9 1029.8 L859.2 1023.5 L865.5 1039.7 L871.8 1046.8 L878.1 1059.9 L884.4 1033.5 L890.7 1063.0 L897.0 1063.0 L903.3 1100.2 L909.5 1073.9 L915.8 1010.2 L922.1 1000.9 L928.4 1149.0 L934.7 1112.0 L941.0 1136.0 L947.3 1176.3 L953.6 1176.3 L959.9 1224.5 L966.2 1058.9 L972.5 1078.5 L978.8 1207.4 L985.0 1361.1 L991.3 1356.5 L997.6 1371.4 L1003.9 1163.9 L1010.2 1208.3 L1016.5 1090.9 L1022.8 1219.8 L1029.1 1331.6 L1035.4 1270.4 L1041.7 1305.2 L1048.0 1363.5 L1054.2 1407.3 L1060.5 1521.3 L1066.8 1394.8 L1073.1 1357.2 L1079.4 1132.9 L1085.7 1098.7 L1098.3 914.0 L1110.9 1036.6 L1117.2 1058.3 L1123.5 1261.9 L1129.7 1197.0 L1136.0 1242.3 L1142.3 1247.3 L1148.6 1250.0 L1154.9 1183.6 L1161.2 1203.2 L1167.5 1170.3 L1173.8 1152.8 L1180.1 1161.4 L1186.4 1185.9 L1192.7 1188.4 L1198.9 1143.2 L1205.2 1139.1 L1211.5 1125.4 L1217.8 1179.2 L1224.1 1157.8 L1230.4 1168.5 L1236.7 1181.0 L1243.0 1151.6 L1249.3 1151.1 L1255.6 1126.2 L1261.9 1135.6 L1268.2 1156.9 L1274.4 1177.8 L1280.7 1164.1 L1287.0 1176.5 L1293.3 1169.8 L1299.6 1180.1 L1305.9 1176.5 L1312.2 1154.3 L1318.5 1165.8 L1324.8 1175.6 L1331.1 1169.0 L1337.4 1174.7 L1343.6 1147.2 L1349.9 1138.3 L1356.2 1168.1 L1362.5 1175.1 L1368.8 1173.3 L1375.1 1234.3 L1381.4 1261.9 L1387.7 1228.1 L1394.0 1187.2 L1400.3 1146.3 L1406.6 1160.5 L1412.9 1175.6 L1419.1 1085.2 L1425.4 1044.2 L1431.7 1062.5 L1438.0 1053.2 L1444.3 1071.9 L1450.6 1025.3 L1456.9 1061.3 L1463.2 1069.1 L1469.5 1047.3 L1475.8 1038.6 L1482.1 1006.0 L1488.3 988.0 L1494.6 988.9 L1500.9 995.2 L1507.2 1002.3 L1513.5 977.5 L1519.8 888.9 L1526.1 803.5 L1532.4 859.4 L1538.7 835.2 L1545.0 850.1 L1551.3 906.6 L1557.6 909.1 L1563.8 926.2 L1570.1 1034.0 L1576.4 1150.4 L1582.7 1199.6 L1589.0 1072.8 L1595.3 999.8 L1601.6 919.1 L1607.9 851.4 L1614.2 857.0 L1620.5 941.7 L1626.8 933.0 L1633.0 864.7 L1639.3 826.5 L1645.6 892.7 L1651.9 1055.1 L1658.2 971.9 L1664.5 916.0 L1670.8 863.2 L1677.1 860.1 L1683.4 919.1 L1689.7 948.6 L1696.0 979.6 L1702.3 957.0 L1708.5 1004.5 L1714.8 988.9 L1721.1 1005.1 L1727.4 1008.5 L1733.7 968.8 L1740.0 941.7 L1746.3 937.7 L1752.6 930.6 L1758.9 901.1 L1765.2 899.8 L1771.5 883.4 L1777.7 850.7 L1784.0 845.5 L1790.3 878.1 L1796.6 888.9 L1802.9 906.0 L1809.2 917.5 L1815.5 909.8 L1821.8 943.9 L1828.1 915.0 L1834.4 915.0 L1840.7 950.7 L1847.0 958.5 L1853.2 984.3 L1859.5 1006.0 L1865.8 1027.8 L1872.1 1061.9 L1878.4 1076.0 L1884.7 1060.2 L1891.0 1089.4 L1897.3 1124.5 L1903.6 1137.9 L1909.9 1147.2 L1916.2 1117.4 L1922.4 1176.7 L1928.7 1161.2 L1935.0 1197.5 L1941.3 1189.8 L1947.6 1193.8 L1953.9 1133.9 L1960.2 1167.1 L1966.5 1121.4 L1972.8 1193.5 L1979.1 1206.8 L1985.4 1185.1 L1991.7 1161.2 L1997.9 1159.6 L2004.2 1119.9 L2010.5 1087.3 L2016.8 1046.5 L2023.1 990.6 L2029.4 962.6 L2035.7 951.1 L2042.0 944.9 L2048.3 951.7 L2054.6 1005.5 L2060.9 1019.1 L2067.1 1049.6 L2073.4 1091.3 L2079.7 1064.6 L2086.0 1140.1 L2092.3 1104.3 L2098.6 1044.9 L2104.9 1031.9 L2111.2 1042.7 L2117.5 1006.7 L2123.8 1149.4 L2130.1 1298.4 L2136.4 1142.2 L2142.6 1143.8 L2148.9 1205.3 L2155.2 1217.7 L2161.5 1279.8 L2167.8 1314.0 L2174.1 1315.5 L2180.4 1396.3 L2186.7 1383.2 L2193.0 1388.5 L2199.3 1359.6 L2205.6 1398.8 L2211.8 1464.6 L2218.1 1504.5 L2224.4 1557.3 L2230.7 1543.4 L2237.0 1369.9 L2243.3 1349.7 L2249.6 1294.4 L2255.9 1302.5 L2262.2 1363.7 L2268.5 1463.0 L2274.8 1495.8 L2281.1 1453.7 L2287.3 1366.8 L2293.6 1374.5 L2299.9 1404.0 L2306.2 1402.5 L2312.5 1325.5 L2318.8 1338.8 L2325.1 1300.0 L2331.4 1303.1 L2337.7 1283.9 L2344.0 1298.4 L2350.3 1310.2 L2356.5 1314.0 L2362.8 1285.1 L2369.1 1279.8 L2375.4 1225.5 L2381.7 1250.9 L2388.0 1234.2 L2394.3 1247.2 L2400.6 1220.8 L2406.9 1247.8 L2413.2 1223.3 L2419.5 1219.3 L2425.8 1229.2 L2432.0 1200.6 L2438.3 1185.7 L2444.6 1178.9 L2450.9 1178.3 L2457.2 1182.0 L2463.5 1175.2 L2469.8 1194.4 L2476.1 1196.9 L2482.4 1192.9 L2488.7 1183.5 L2495.0 1214.6 L2501.2 1227.6 L2507.5 1237.3 L2513.8 1245.7 L2520.1 1251.9 L2526.4 1232.6 L2532.7 1232.6 L2539.0 1273.0 L2545.3 1263.4 L2551.6 1239.4 L2557.9 1263.4 L2564.2 1227.0 L2570.5 1189.1 L2576.7 1207.5 L2583.0 1212.4 L2589.3 1192.9 L2595.6 1192.9 L2601.9 1199.1 L2608.2 1192.2 L2614.5 1214.6 L2620.8 1214.6 L2627.1 1221.4 L2633.4 1171.5 L2639.7 1188.6 L2645.9 1183.7 L2652.2 1151.6 L2658.5 1148.7 L2664.8 1137.3 L2671.1 1077.5 L2677.4 1114.6 L2683.7 1116.0 L2690.0 1138.8 L2696.3 1159.5 L2702.6 1002.1 L2708.9 1032.0 L2715.2 1137.9 L2721.4 1145.3 L2727.7 1032.0 L2734.0 954.3 L2740.3 947.4 L2746.6 903.9 L2752.9 842.1 L2759.2 861.2 L2765.5 918.1 L2771.8 948.0 L2778.1 859.8 L2784.4 848.4 L2790.6 861.2 L2796.9 892.5 L2803.2 926.7 L2809.5 928.1 L2815.8 921.8 L2822.1 923.8 L2828.4 851.2 L2834.7 865.4 L2841.0 826.4 L2847.3 873.4 L2853.6 873.4 L2859.9 825.6 L2866.1 882.0 L2872.4 890.2 L2878.7 872.6 L2885.0 874.0 L2891.3 949.4 L2897.6 948.0 L2903.9 949.4 L2910.2 1012.1 L2916.5 1014.9 L2922.8 989.3 L2929.1 965.7 L2935.3 990.7 L2941.6 1003.0 L2947.9 992.1 L2954.2 958.8 L2960.5 967.4 L2966.8 965.1 L2973.1 946.6 L2979.4 940.0" stroke="#00bcd4" stroke-width="2.85" fill="none" stroke-linejoin="round" stroke-linecap="round"/>
<path d="M3.6 341.8 L9.9 324.4 L16.2 369.2 L22.5 366.7 L28.8 330.6 L35.1 344.3 L41.3 343.1 L47.6 333.1 L53.9 364.3 L60.2 329.4 L66.5 311.9 L72.8 294.5 L79.1 307.0 L85.4 277.1 L91.7 250.9 L98.0 259.6 L104.3 263.4 L110.6 248.9 L116.8 249.7 L123.1 264.6 L129.4 280.8 L135.7 249.7 L142.0 255.9 L148.3 239.7 L154.6 231.7 L160.9 255.9 L167.2 279.5 L173.5 265.8 L179.8 252.1 L186.0 270.8 L192.3 289.5 L198.6 265.8 L204.9 264.6 L211.2 264.6 L217.5 268.3 L223.8 263.4 L230.1 288.3 L236.4 267.1 L242.7 292.0 L249.0 360.5 L255.3 349.3 L261.5 411.6 L267.8 478.8 L274.1 475.1 L280.4 417.8 L286.7 361.8 L293.0 416.6 L299.3 422.8 L305.6 442.7 L311.9 461.4 L318.2 462.7 L324.5 434.0 L330.7 407.8 L337.0 451.4 L343.3 473.9 L381.1 550.3 L387.4 470.2 L393.7 561.0 L400.0 615.9 L406.2 650.1 L412.5 693.5 L418.8 729.3 L425.1 665.6 L431.4 669.3 L437.7 726.1 L444.0 735.5 L450.3 701.3 L456.6 740.1 L462.9 774.3 L469.2 774.3 L475.4 824.0 L481.7 829.3 L488.0 886.1 L494.3 902.5 L500.6 902.5 L506.9 929.6 L513.2 956.0 L519.5 1054.6 L525.8 1038.8 L532.1 936.4 L538.4 966.2 L544.7 884.5 L550.9 873.7 L557.2 852.5 L563.5 862.8 L569.8 858.1 L576.1 939.5 L582.4 906.3 L588.7 892.3 L595.0 945.1 L601.3 965.3 L607.6 1000.9 L613.9 1002.4 L620.1 988.6 L626.4 1022.6 L632.7 999.3 L639.0 1061.4 L645.3 1123.5 L651.6 1174.8 L657.9 1120.4 L664.2 1067.0 L670.5 1065.5 L676.8 969.9 L683.1 937.3 L689.4 938.9 L695.6 932.7 L701.9 836.4 L708.2 868.1 L714.5 864.3 L720.8 881.4 L727.1 861.2 L733.4 817.1 L739.7 848.8 L746.0 849.8 L752.3 841.1 L758.6 834.8 L764.8 856.6 L771.1 833.3 L777.4 833.3 L783.7 828.0 L790.0 826.5 L796.3 851.3 L802.6 855.0 L808.9 859.7 L815.2 895.4 L821.5 833.3 L827.8 802.2 L834.1 785.2 L840.3 800.7 L846.6 782.0 L852.9 796.0 L859.2 777.4 L865.5 796.6 L871.8 799.1 L878.1 808.4 L884.4 786.1 L890.7 806.9 L897.0 804.7 L903.3 826.5 L909.5 805.3 L915.8 757.2 L922.1 747.9 L928.4 874.3 L934.7 833.3 L941.0 873.7 L947.3 903.2 L953.6 908.4 L959.9 954.4 L966.2 893.9 L972.5 920.2 L985.0 1125.1 L991.3 1159.3 L997.6 1182.5 L1003.9 1027.3 L1010.2 1068.6 L1016.5 960.6 L1022.8 1030.4 L1029.1 1176.3 L1035.4 1131.3 L1041.7 1167.0 L1048.0 1207.4 L1054.2 1254.0 L1060.5 1313.9 L1066.8 1229.1 L1073.1 1210.5 L1079.4 1030.4 L1085.7 999.3 L1092.0 889.2 L1098.3 850.4 L1104.6 904.7 L1110.9 946.6 L1117.2 949.8 L1123.5 1118.9 L1129.7 1063.0 L1136.0 1101.8 L1142.3 1103.4 L1148.6 1114.2 L1154.9 1061.4 L1161.2 1079.0 L1167.5 1048.0 L1173.8 1040.2 L1180.1 1041.1 L1186.4 1061.0 L1192.7 1063.5 L1198.9 1031.8 L1205.2 1031.8 L1211.5 1016.9 L1217.8 1055.7 L1224.1 1037.7 L1230.4 1046.4 L1236.7 1056.3 L1243.0 1037.7 L1249.3 1030.2 L1255.6 1010.7 L1261.9 1020.0 L1268.2 1035.5 L1274.4 1044.2 L1280.7 1045.8 L1287.0 1053.2 L1293.3 1047.3 L1299.6 1054.8 L1305.9 1041.1 L1312.2 1027.1 L1318.5 1035.5 L1324.8 1044.8 L1331.1 1038.6 L1337.4 1044.8 L1343.6 1020.0 L1349.9 1014.7 L1356.2 1037.7 L1362.5 1046.4 L1368.8 1043.3 L1375.1 1088.3 L1381.4 1103.2 L1387.7 1075.0 L1394.0 1046.4 L1400.3 1018.4 L1406.6 1030.2 L1412.9 1051.1 L1419.1 985.8 L1425.4 943.9 L1431.7 953.2 L1438.0 940.8 L1444.3 961.9 L1450.6 922.8 L1456.9 957.9 L1463.2 961.0 L1469.5 942.4 L1475.8 933.0 L1482.1 897.3 L1488.3 887.1 L1494.6 882.4 L1500.9 894.2 L1507.2 906.0 L1513.5 875.6 L1519.8 857.9 L1526.1 784.0 L1532.4 829.0 L1538.7 825.0 L1545.0 901.4 L1551.3 957.3 L1557.6 964.1 L1563.8 981.2 L1570.1 1080.6 L1576.4 1142.7 L1582.7 1184.7 L1589.0 1083.7 L1595.3 1020.0 L1601.6 959.4 L1607.9 909.1 L1614.2 920.6 L1620.5 984.3 L1626.8 976.5 L1633.0 895.8 L1639.3 861.6 L1645.6 900.4 L1651.9 1029.3 L1658.2 956.3 L1664.5 916.0 L1670.8 872.5 L1677.1 871.6 L1683.4 921.6 L1689.7 949.5 L1696.0 968.1 L1702.3 985.8 L1708.5 1013.2 L1714.8 1001.4 L1721.1 1016.9 L1727.4 1012.2 L1733.7 984.3 L1740.0 961.9 L1746.3 958.5 L1752.6 953.2 L1758.9 932.1 L1765.2 930.6 L1771.5 920.6 L1777.7 897.3 L1784.0 894.2 L1790.3 919.1 L1796.6 932.4 L1802.9 943.9 L1809.2 951.7 L1815.5 947.6 L1821.8 961.0 L1828.1 939.3 L1834.4 941.7 L1840.7 964.1 L1847.0 967.2 L1853.2 986.5 L1859.5 1002.9 L1865.8 1017.5 L1872.1 1039.6 L1878.4 1052.7 L1884.7 1040.2 L1891.0 1064.0 L1897.3 1084.2 L1903.6 1094.4 L1909.9 1099.7 L1916.2 1084.8 L1922.4 1119.9 L1928.7 1109.6 L1935.0 1137.9 L1941.3 1127.6 L1947.6 1131.4 L1953.9 1087.9 L1960.2 1113.7 L1966.5 1090.4 L1972.8 1149.4 L1979.1 1162.4 L1985.4 1157.1 L1991.7 1125.5 L1997.9 1130.7 L2004.2 1095.0 L2010.5 1078.9 L2016.8 1041.8 L2023.1 1003.0 L2029.4 977.5 L2035.7 970.4 L2042.0 966.6 L2048.3 957.3 L2054.6 1001.4 L2060.9 1016.3 L2067.1 1040.2 L2073.4 1077.3 L2079.7 1044.3 L2086.0 1116.8 L2092.3 1074.2 L2098.6 1038.7 L2104.9 1024.7 L2111.2 1024.7 L2117.5 1007.6 L2123.8 1081.1 L2130.1 1182.6 L2136.4 1052.2 L2142.6 1078.0 L2148.9 1116.1 L2155.2 1133.2 L2161.5 1174.2 L2167.8 1218.6 L2174.1 1217.7 L2180.4 1306.2 L2186.7 1282.9 L2193.0 1296.3 L2199.3 1275.2 L2205.6 1300.0 L2211.8 1349.7 L2218.1 1376.1 L2224.4 1428.3 L2230.7 1427.3 L2237.0 1290.1 L2243.3 1278.9 L2249.6 1232.3 L2255.9 1235.4 L2262.2 1295.3 L2268.5 1354.3 L2274.8 1376.1 L2281.1 1351.2 L2287.3 1276.7 L2293.6 1289.1 L2299.9 1307.1 L2306.2 1307.1 L2312.5 1242.5 L2318.8 1259.6 L2325.1 1231.1 L2331.4 1229.2 L2337.7 1215.5 L2344.0 1223.9 L2350.3 1231.7 L2356.5 1231.7 L2362.8 1215.5 L2369.1 1209.3 L2375.4 1168.0 L2381.7 1188.2 L2388.0 1170.5 L2394.3 1184.5 L2400.6 1168.0 L2406.9 1188.8 L2413.2 1168.0 L2419.5 1167.4 L2425.8 1174.2 L2432.0 1157.8 L2438.3 1149.4 L2444.6 1142.5 L2450.9 1143.2 L2457.2 1148.4 L2463.5 1147.2 L2469.8 1160.9 L2476.1 1157.8 L2482.4 1152.5 L2488.7 1141.6 L2495.0 1164.9 L2501.2 1174.2 L2507.5 1183.5 L2513.8 1192.9 L2520.1 1199.1 L2526.4 1181.1 L2532.7 1181.1 L2539.0 1214.6 L2545.3 1210.6 L2551.6 1191.3 L2557.9 1211.5 L2564.2 1184.5 L2570.5 1147.8 L2576.7 1160.9 L2583.0 1160.9 L2589.3 1149.4 L2595.6 1145.7 L2601.9 1154.0 L2608.2 1150.0 L2614.5 1173.3 L2620.8 1170.1 L2627.1 1174.9 L2633.4 1130.8 L2639.7 1152.4 L2645.9 1147.9 L2652.2 1121.7 L2658.5 1118.3 L2664.8 1112.6 L2671.1 1063.9 L2677.4 1101.2 L2683.7 1090.4 L2690.0 1110.3 L2696.3 1136.8 L2702.6 1033.4 L2708.9 1022.0 L2715.2 1109.7 L2721.4 1096.6 L2727.7 1009.2 L2734.0 931.5 L2740.3 929.5 L2746.6 893.9 L2752.9 833.3 L2759.2 839.8 L2765.5 907.6 L2771.8 935.2 L2778.1 856.9 L2784.4 843.2 L2790.6 852.6 L2796.9 875.4 L2803.2 906.7 L2809.5 914.4 L2815.8 910.4 L2822.1 913.0 L2828.4 846.9 L2834.7 859.8 L2841.0 812.2 L2847.3 858.3 L2853.6 851.2 L2859.9 815.1 L2866.1 869.1 L2872.4 870.6 L2878.7 862.0 L2885.0 857.5 L2891.3 919.5 L2897.6 925.2 L2903.9 919.5 L2910.2 963.7 L2916.5 967.1 L2922.8 950.9 L2929.1 935.2 L2935.3 957.4 L2941.6 952.3 L2947.9 944.6 L2954.2 930.1 L2960.5 932.3 L2966.8 934.3 L2973.1 922.4 L2979.4 920.4" stroke="#f23645" stroke-width="2.85" fill="none" stroke-linejoin="round" stroke-linecap="round"/>
<path d="M3.6 341.8 L9.9 314.9 L16.2 354.3 L22.5 359.3 L28.8 318.2 L35.1 321.4 L41.3 320.7 L47.6 318.7 L53.9 349.3 L60.2 321.9 L66.5 313.2 L72.8 294.5 L79.1 307.4 L85.4 288.3 L91.7 269.6 L98.0 280.0 L104.3 274.6 L110.6 268.8 L116.8 267.6 L123.1 279.5 L129.4 290.8 L135.7 268.3 L142.0 264.6 L148.3 255.9 L154.6 250.4 L160.9 267.1 L167.2 284.5 L173.5 273.3 L179.8 263.4 L186.0 278.3 L192.3 294.0 L198.6 272.1 L204.9 272.8 L211.2 272.1 L217.5 275.8 L223.8 265.8 L230.1 289.5 L236.4 275.8 L242.7 297.0 L249.0 353.0 L255.3 333.1 L261.5 399.1 L267.8 463.9 L274.1 447.7 L280.4 401.6 L286.7 357.5 L293.0 400.4 L299.3 399.1 L305.6 417.8 L311.9 434.0 L318.2 439.0 L324.5 425.3 L330.7 417.8 L337.0 446.5 L343.3 461.4 L349.6 485.1 L355.9 495.0 L362.2 476.4 L368.5 458.9 L374.8 462.7 L381.1 496.3 L387.4 368.8 L393.7 354.6 L400.0 379.5 L406.2 388.4 L412.5 433.6 L418.8 416.8 L425.1 370.6 L431.4 397.3 L437.7 475.6 L444.0 482.7 L450.3 446.4 L456.6 493.3 L462.9 511.1 L469.2 525.4 L475.4 573.4 L481.7 606.6 L488.0 670.2 L494.3 696.6 L500.6 721.5 L506.9 746.3 L513.2 771.2 L519.5 851.9 L525.8 859.7 L532.1 768.7 L538.4 775.2 L544.7 744.2 L550.9 731.7 L557.2 708.4 L563.5 714.3 L569.8 718.4 L576.1 761.9 L582.4 733.9 L588.7 720.6 L595.0 747.9 L601.3 754.1 L607.6 765.9 L613.9 764.0 L620.1 743.2 L626.4 779.6 L632.7 770.2 L639.0 820.9 L645.3 870.6 L651.6 914.0 L657.9 873.7 L664.2 833.3 L670.5 824.0 L676.8 754.1 L683.1 739.2 L689.4 740.1 L695.6 738.0 L701.9 667.8 L708.2 694.2 L714.5 692.0 L720.8 694.2 L727.1 679.6 L733.4 655.3 L739.7 672.4 L746.0 677.4 L752.3 669.3 L758.6 669.3 L764.8 686.4 L771.1 664.7 L777.4 668.7 L783.7 666.2 L790.0 657.2 L796.3 678.6 L802.6 674.9 L808.9 684.8 L815.2 705.0 L821.5 665.0 L827.8 671.8 L834.1 660.9 L840.3 665.6 L846.6 659.4 L852.9 678.0 L859.2 660.9 L865.5 679.6 L871.8 681.7 L878.1 692.9 L884.4 670.9 L890.7 687.3 L897.0 684.8 L903.3 697.3 L909.5 677.1 L915.8 641.4 L922.1 639.2 L928.4 742.3 L934.7 685.8 L941.0 746.3 L947.3 773.7 L953.6 780.5 L959.9 820.9 L966.2 865.9 L972.5 917.1 L978.8 1019.5 L985.0 1056.8 L991.3 1089.4 L997.6 1134.4 L1003.9 1025.7 L1010.2 1059.9 L1016.5 951.9 L1022.8 1027.3 L1029.1 1142.2 L1035.4 1097.1 L1041.7 1129.8 L1048.0 1173.2 L1054.2 1201.2 L1060.5 1230.7 L1066.8 1174.8 L1073.1 1166.1 L1079.4 1022.6 L1085.7 996.2 L1092.0 901.6 L1098.3 870.6 L1104.6 910.9 L1110.9 946.6 L1117.2 930.5 L1123.5 1071.4 L1129.7 1023.5 L1136.0 1056.1 L1142.3 1058.3 L1148.6 1066.1 L1154.9 1038.1 L1161.2 1043.3 L1167.5 1016.9 L1173.8 1018.4 L1180.1 1013.2 L1186.4 1023.1 L1192.7 1037.1 L1198.9 1011.3 L1205.2 1007.6 L1211.5 1001.4 L1217.8 1023.1 L1224.1 1006.0 L1230.4 1010.7 L1236.7 1030.2 L1243.0 1015.3 L1249.3 1006.0 L1255.6 984.3 L1261.9 995.2 L1268.2 1008.5 L1274.4 1018.4 L1280.7 1025.3 L1287.0 1027.1 L1293.3 1020.9 L1299.6 1025.3 L1305.9 1012.2 L1312.2 999.2 L1318.5 1007.6 L1324.8 1018.4 L1331.1 1008.5 L1337.4 1015.3 L1343.6 993.0 L1349.9 991.1 L1356.2 1011.6 L1362.5 1018.4 L1368.8 1018.4 L1375.1 1048.6 L1381.4 1055.1 L1387.7 1036.5 L1394.0 1016.9 L1400.3 998.3 L1406.6 1007.6 L1412.9 1031.5 L1419.1 968.8 L1425.4 945.5 L1431.7 959.4 L1438.0 940.8 L1444.3 959.4 L1450.6 942.4 L1456.9 969.7 L1463.2 969.7 L1469.5 953.2 L1475.8 939.3 L1482.1 913.8 L1488.3 909.8 L1494.6 897.3 L1500.9 910.4 L1507.2 916.0 L1513.5 916.0 L1519.8 923.7 L1526.1 860.1 L1532.4 905.1 L1538.7 929.9 L1545.0 1055.7 L1551.3 1127.1 L1557.6 1139.6 L1563.8 1154.2 L1570.1 1268.5 L1576.4 1295.8 L1582.7 1299.6 L1589.0 1225.0 L1595.3 1209.5 L1601.6 1141.1 L1607.9 1086.8 L1614.2 1094.5 L1620.5 1141.1 L1626.8 1133.4 L1633.0 1054.2 L1639.3 1016.3 L1645.6 1032.4 L1651.9 1138.0 L1658.2 1080.6 L1664.5 1054.2 L1670.8 1016.3 L1677.1 1012.2 L1683.4 1061.9 L1689.7 1075.0 L1696.0 1069.7 L1702.3 1126.5 L1708.5 1141.1 L1714.8 1141.1 L1721.1 1152.0 L1727.4 1147.3 L1733.7 1122.5 L1740.0 1106.0 L1746.3 1099.8 L1752.6 1096.1 L1758.9 1088.3 L1765.2 1089.9 L1771.5 1083.7 L1777.7 1064.1 L1784.0 1064.1 L1790.3 1080.6 L1796.6 1093.9 L1802.9 1098.6 L1809.2 1106.0 L1815.5 1108.5 L1821.8 1110.1 L1828.1 1085.2 L1834.4 1089.9 L1840.7 1107.0 L1847.0 1108.5 L1853.2 1113.8 L1859.5 1122.5 L1865.8 1135.8 L1872.1 1152.0 L1878.4 1161.8 L1884.7 1154.0 L1891.0 1171.1 L1897.3 1185.1 L1903.6 1188.8 L1909.9 1192.9 L1916.2 1184.2 L1922.4 1210.6 L1928.7 1199.1 L1935.0 1222.4 L1941.3 1211.5 L1947.6 1216.8 L1953.9 1182.0 L1960.2 1206.8 L1966.5 1195.0 L1972.8 1237.3 L1979.1 1247.8 L1985.4 1245.0 L1991.7 1219.3 L1997.9 1223.9 L2004.2 1200.6 L2010.5 1189.8 L2016.8 1157.1 L2023.1 1127.6 L2029.4 1106.8 L2035.7 1105.0 L2042.0 1104.3 L2048.3 1093.5 L2054.6 1126.1 L2060.9 1143.2 L2067.1 1159.3 L2073.4 1195.0 L2079.7 1166.5 L2086.0 1225.5 L2092.3 1200.6 L2098.6 1172.7 L2104.9 1161.8 L2111.2 1141.6 L2117.5 1168.0 L2123.8 1185.1 L2130.1 1237.9 L2136.4 1127.6 L2142.6 1180.4 L2148.9 1211.5 L2155.2 1248.8 L2161.5 1298.4 L2167.8 1331.1 L2174.1 1352.8 L2180.4 1432.9 L2186.7 1402.5 L2193.0 1440.7 L2199.3 1409.6 L2205.6 1430.4 L2211.8 1466.1 L2218.1 1490.6 L2224.4 1558.9 L2230.7 1565.1 L2237.0 1446.0 L2243.3 1436.6 L2249.6 1390.7 L2255.9 1384.8 L2262.2 1422.7 L2268.5 1467.1 L2274.8 1467.1 L2281.1 1470.8 L2287.3 1417.4 L2293.6 1432.0 L2299.9 1444.4 L2306.2 1447.5 L2312.5 1385.4 L2318.8 1414.9 L2325.1 1391.6 L2331.4 1394.1 L2337.7 1372.0 L2344.0 1380.1 L2350.3 1384.5 L2356.5 1384.5 L2362.8 1371.4 L2369.1 1370.8 L2375.4 1341.9 L2381.7 1356.5 L2388.0 1342.9 L2394.3 1357.5 L2400.6 1341.0 L2406.9 1358.1 L2413.2 1347.5 L2419.5 1346.6 L2425.8 1351.2 L2432.0 1337.9 L2438.3 1334.8 L2444.6 1328.9 L2450.9 1331.1 L2457.2 1335.1 L2463.5 1337.9 L2469.8 1345.7 L2476.1 1339.4 L2482.4 1333.5 L2488.7 1322.4 L2495.0 1334.8 L2501.2 1338.8 L2507.5 1347.2 L2513.8 1355.3 L2520.1 1362.7 L2526.4 1350.3 L2532.7 1342.9 L2539.0 1375.5 L2545.3 1375.5 L2551.6 1363.0 L2557.9 1377.6 L2564.2 1365.2 L2570.5 1325.8 L2576.7 1333.5 L2583.0 1333.2 L2589.3 1328.0 L2595.6 1321.7 L2601.9 1329.5 L2608.2 1331.1 L2614.5 1355.3 L2620.8 1353.2 L2627.1 1357.5 L2633.4 1317.6 L2639.7 1332.5 L2645.9 1336.8 L2652.2 1320.8 L2658.5 1316.9 L2664.8 1328.7 L2671.1 1290.2 L2677.4 1310.5 L2683.7 1290.7 L2690.0 1310.1 L2696.3 1346.8 L2702.6 1270.0 L2708.9 1232.6 L2715.2 1314.4 L2721.4 1294.1 L2727.7 1214.5 L2734.0 1141.5 L2740.3 1141.3 L2746.6 1123.8 L2752.9 1084.3 L2759.2 1070.4 L2765.5 1136.8 L2771.8 1161.5 L2778.1 1100.3 L2784.4 1074.7 L2790.6 1077.5 L2796.9 1091.8 L2803.2 1121.7 L2809.5 1142.5 L2815.8 1125.9 L2822.1 1131.1 L2828.4 1073.3 L2834.7 1083.2 L2841.0 1048.2 L2847.3 1081.8 L2853.6 1079.8 L2859.9 1048.2 L2866.1 1088.9 L2872.4 1096.0 L2878.7 1100.3 L2885.0 1079.8 L2891.3 1128.8 L2897.6 1149.6 L2903.9 1141.0 L2910.2 1167.2 L2916.5 1173.5 L2922.8 1160.1 L2929.1 1148.7 L2935.3 1170.1 L2941.6 1166.7 L2947.9 1163.8 L2954.2 1148.7 L2960.5 1145.3 L2966.8 1150.1 L2973.1 1145.9 L2979.4 1142.5" stroke="#ffeb3b" stroke-width="2.85" fill="none" stroke-linejoin="round" stroke-linecap="round"/>
<circle cx="142.5" cy="264.6" r="5.2" fill="#151823" stroke="#2962ff" stroke-width="2"/>
<circle cx="318.4" cy="438.5" r="5.2" fill="#151823" stroke="#2962ff" stroke-width="2"/>
<circle cx="494.3" cy="696.6" r="5.2" fill="#151823" stroke="#2962ff" stroke-width="2"/>
<circle cx="670.4" cy="824.0" r="5.2" fill="#151823" stroke="#2962ff" stroke-width="2"/>
<circle cx="846.5" cy="659.4" r="5.2" fill="#151823" stroke="#2962ff" stroke-width="2"/>
<circle cx="1022.2" cy="1037.5" r="5.2" fill="#151823" stroke="#2962ff" stroke-width="2"/>
<circle cx="1199.4" cy="1011.3" r="5.2" fill="#151823" stroke="#2962ff" stroke-width="2"/>
<circle cx="1375.2" cy="1048.6" r="5.2" fill="#151823" stroke="#2962ff" stroke-width="2"/>
<circle cx="1551.3" cy="1127.0" r="5.2" fill="#151823" stroke="#2962ff" stroke-width="2"/>
<circle cx="1727.4" cy="1147.3" r="5.2" fill="#151823" stroke="#2962ff" stroke-width="2"/>
<circle cx="1903.5" cy="1188.4" r="5.2" fill="#151823" stroke="#2962ff" stroke-width="2"/>
<circle cx="2079.4" cy="1160.9" r="5.2" fill="#151823" stroke="#2962ff" stroke-width="2"/>
<circle cx="2255.7" cy="1385.0" r="5.2" fill="#151823" stroke="#2962ff" stroke-width="2"/>
<circle cx="2432.2" cy="1337.9" r="5.2" fill="#151823" stroke="#2962ff" stroke-width="2"/>
<circle cx="2608.3" cy="1331.0" r="5.2" fill="#151823" stroke="#2962ff" stroke-width="2"/>
<circle cx="2784.3" cy="1070.4" r="5.2" fill="#151823" stroke="#2962ff" stroke-width="2"/>
<circle cx="2960.2" cy="1145.3" r="5.2" fill="#151823" stroke="#2962ff" stroke-width="2"/>
</g>
<path d="M3 921.5H3031" stroke="#000000" stroke-opacity="0.55" stroke-width="3.4" fill="none"/>
<path d="M3.5 921.5H3031" stroke="#ffffff" stroke-width="1.4" stroke-dasharray="1.4 1.6" fill="none"/>
<circle cx="2979.4" cy="921.3" r="18.8" fill="none" stroke="#8e8e8e" stroke-width="1.2"/>
<circle cx="2979.4" cy="921.3" r="5" fill="#ffffff"/>
<text x="3155.0" y="69.1" font-size="24" fill="#b8bbc6" textLength="59.5" lengthAdjust="spacingAndGlyphs" stroke="#b8bbc6" stroke-width="0.4" >1.00%</text>
<text x="3155.0" y="210.1" font-size="24" fill="#b8bbc6" textLength="59.5" lengthAdjust="spacingAndGlyphs" stroke="#b8bbc6" stroke-width="0.4" >0.50%</text>
<text x="3155.0" y="351.1" font-size="24" fill="#b8bbc6" textLength="59.5" lengthAdjust="spacingAndGlyphs" stroke="#b8bbc6" stroke-width="0.4" >0.00%</text>
<text x="3155.0" y="492.1" font-size="24" fill="#b8bbc6" textLength="73.0" lengthAdjust="spacingAndGlyphs" stroke="#b8bbc6" stroke-width="0.4" >−0.50%</text>
<text x="3155.0" y="633.1" font-size="24" fill="#b8bbc6" textLength="73.0" lengthAdjust="spacingAndGlyphs" stroke="#b8bbc6" stroke-width="0.4" >−1.00%</text>
<text x="3155.0" y="775.1" font-size="24" fill="#b8bbc6" textLength="73.0" lengthAdjust="spacingAndGlyphs" stroke="#b8bbc6" stroke-width="0.4" >−1.50%</text>
<text x="3155.0" y="916.1" font-size="24" fill="#b8bbc6" textLength="73.0" lengthAdjust="spacingAndGlyphs" stroke="#b8bbc6" stroke-width="0.4" >−2.00%</text>
<text x="3155.0" y="1057.1" font-size="24" fill="#b8bbc6" textLength="73.0" lengthAdjust="spacingAndGlyphs" stroke="#b8bbc6" stroke-width="0.4" >−2.50%</text>
<text x="3155.0" y="1198.1" font-size="24" fill="#b8bbc6" textLength="73.0" lengthAdjust="spacingAndGlyphs" stroke="#b8bbc6" stroke-width="0.4" >−3.00%</text>
<text x="3155.0" y="1339.1" font-size="24" fill="#b8bbc6" textLength="73.0" lengthAdjust="spacingAndGlyphs" stroke="#b8bbc6" stroke-width="0.4" >−3.50%</text>
<text x="3155.0" y="1480.1" font-size="24" fill="#b8bbc6" textLength="73.0" lengthAdjust="spacingAndGlyphs" stroke="#b8bbc6" stroke-width="0.4" >−4.00%</text>
<text x="3155.0" y="1621.1" font-size="24" fill="#b8bbc6" textLength="73.0" lengthAdjust="spacingAndGlyphs" stroke="#b8bbc6" stroke-width="0.4" >−4.50%</text>
<text x="136.2" y="1751.3" font-size="24" fill="#b8bbc6" textLength="24.6" lengthAdjust="spacingAndGlyphs" font-weight="bold" >10</text>
<text x="270.5" y="1751.3" font-size="24" fill="#b8bbc6" textLength="58.0" lengthAdjust="spacingAndGlyphs" stroke="#b8bbc6" stroke-width="0.4" >06:00</text>
<text x="421.5" y="1751.3" font-size="24" fill="#b8bbc6" textLength="58.0" lengthAdjust="spacingAndGlyphs" stroke="#b8bbc6" stroke-width="0.4" >12:00</text>
<text x="547.5" y="1751.3" font-size="24" fill="#b8bbc6" textLength="58.0" lengthAdjust="spacingAndGlyphs" stroke="#b8bbc6" stroke-width="0.4" >18:00</text>
<text x="715.2" y="1751.3" font-size="24" fill="#b8bbc6" textLength="24.6" lengthAdjust="spacingAndGlyphs" font-weight="bold" >11</text>
<text x="849.5" y="1751.3" font-size="24" fill="#b8bbc6" textLength="58.0" lengthAdjust="spacingAndGlyphs" stroke="#b8bbc6" stroke-width="0.4" >06:00</text>
<text x="1000.5" y="1751.3" font-size="24" fill="#b8bbc6" textLength="58.0" lengthAdjust="spacingAndGlyphs" stroke="#b8bbc6" stroke-width="0.4" >12:00</text>
<text x="1126.5" y="1751.3" font-size="24" fill="#b8bbc6" textLength="58.0" lengthAdjust="spacingAndGlyphs" stroke="#b8bbc6" stroke-width="0.4" >18:00</text>
<text x="1294.2" y="1751.3" font-size="24" fill="#b8bbc6" textLength="24.6" lengthAdjust="spacingAndGlyphs" font-weight="bold" >12</text>
<text x="1428.5" y="1751.3" font-size="24" fill="#b8bbc6" textLength="58.0" lengthAdjust="spacingAndGlyphs" stroke="#b8bbc6" stroke-width="0.4" >06:00</text>
<text x="1579.5" y="1751.3" font-size="24" fill="#b8bbc6" textLength="58.0" lengthAdjust="spacingAndGlyphs" stroke="#b8bbc6" stroke-width="0.4" >12:00</text>
<text x="1704.5" y="1751.3" font-size="24" fill="#b8bbc6" textLength="58.0" lengthAdjust="spacingAndGlyphs" stroke="#b8bbc6" stroke-width="0.4" >18:00</text>
<text x="1872.2" y="1751.3" font-size="24" fill="#b8bbc6" textLength="24.6" lengthAdjust="spacingAndGlyphs" font-weight="bold" >13</text>
<text x="2006.5" y="1751.3" font-size="24" fill="#b8bbc6" textLength="58.0" lengthAdjust="spacingAndGlyphs" stroke="#b8bbc6" stroke-width="0.4" >06:00</text>
<text x="2157.5" y="1751.3" font-size="24" fill="#b8bbc6" textLength="58.0" lengthAdjust="spacingAndGlyphs" stroke="#b8bbc6" stroke-width="0.4" >12:00</text>
<text x="2283.5" y="1751.3" font-size="24" fill="#b8bbc6" textLength="58.0" lengthAdjust="spacingAndGlyphs" stroke="#b8bbc6" stroke-width="0.4" >18:00</text>
<text x="2451.2" y="1751.3" font-size="24" fill="#b8bbc6" textLength="24.6" lengthAdjust="spacingAndGlyphs" font-weight="bold" >14</text>
<text x="2585.5" y="1751.3" font-size="24" fill="#b8bbc6" textLength="58.0" lengthAdjust="spacingAndGlyphs" stroke="#b8bbc6" stroke-width="0.4" >06:00</text>
<text x="2736.5" y="1751.3" font-size="24" fill="#b8bbc6" textLength="58.0" lengthAdjust="spacingAndGlyphs" stroke="#b8bbc6" stroke-width="0.4" >12:00</text>
<text x="2879.2" y="1751.3" font-size="24" fill="#b8bbc6" textLength="24.6" lengthAdjust="spacingAndGlyphs" font-weight="bold" >16</text>
<text x="3030.2" y="1751.3" font-size="24" fill="#b8bbc6" textLength="24.6" lengthAdjust="spacingAndGlyphs" font-weight="bold" >17</text>
<polygon points="3202.6,1744.0 3197.1,1753.4 3186.2,1753.4 3180.8,1744.0 3186.2,1734.6 3197.1,1734.6" fill="none" stroke="#d1d4dc" stroke-width="1.5"/>
<circle cx="3191.7" cy="1744.0" r="3.4" fill="none" stroke="#d1d4dc" stroke-width="1.5"/>
<path d="M3017.4 656.3H3137.6V690.9H3017.4a3 3 0 0 1 -3 -3V659.3a3 3 0 0 1 3 -3z" fill="#4caf50"/>
<path d="M3138.8 656.3H3235a3 3 0 0 1 3 3V687.9a3 3 0 0 1 -3 3H3138.8z" fill="#4caf50"/>
<text x="3023.4" y="681.9" font-size="24" fill="#ffffff" textLength="106.0" lengthAdjust="spacingAndGlyphs" stroke="#ffffff" stroke-width="0.4" >RTYH2025</text>
<text x="3155.0" y="681.9" font-size="24" fill="#ffffff" textLength="73.0" lengthAdjust="spacingAndGlyphs" stroke="#ffffff" stroke-width="0.4" >−1.17%</text>
<path d="M3033.2 903.8H3137.6V938.4H3033.2a3 3 0 0 1 -3 -3V906.8a3 3 0 0 1 3 -3z" fill="#ffffff"/>
<path d="M3138.8 903.8H3235a3 3 0 0 1 3 3V966.6H3138.8z" fill="#ffffff"/>
<text x="3040.9" y="929.5" font-size="24" fill="#060606" textLength="88.3" lengthAdjust="spacingAndGlyphs" stroke="#060606" stroke-width="0.4" >ESH2025</text>
<text x="3155.0" y="929.5" font-size="24" fill="#060606" textLength="73.0" lengthAdjust="spacingAndGlyphs" stroke="#060606" stroke-width="0.4" >−2.05%</text>
<text x="3155.0" y="957.5" font-size="24" fill="#48484d" textLength="57.6" lengthAdjust="spacingAndGlyphs" stroke="#48484d" stroke-width="0.4" >10:58</text>
<path d="M3026 966.6H3137.6V1000.7H3026a3 3 0 0 1 -3 -3V969.6a3 3 0 0 1 3 -3z" fill="#00bcd4"/>
<path d="M3138.8 966.6H3235a3 3 0 0 1 3 3V997.7a3 3 0 0 1 -3 3H3138.8z" fill="#00bcd4"/>
<text x="3033.8" y="992.0" font-size="24" fill="#060606" textLength="95.6" lengthAdjust="spacingAndGlyphs" stroke="#060606" stroke-width="0.4" >NQH2025</text>
<text x="3155.0" y="992.0" font-size="24" fill="#060606" textLength="73.0" lengthAdjust="spacingAndGlyphs" stroke="#060606" stroke-width="0.4" >−2.12%</text>
<path d="M3026.8 1126.2H3137.6V1161.2H3026.8a3 3 0 0 1 -3 -3V1129.2a3 3 0 0 1 3 -3z" fill="#ffeb3b"/>
<path d="M3138.8 1126.2H3235a3 3 0 0 1 3 3V1158.2a3 3 0 0 1 -3 3H3138.8z" fill="#ffeb3b"/>
<text x="3033.8" y="1152.0" font-size="24" fill="#060606" textLength="95.6" lengthAdjust="spacingAndGlyphs" stroke="#060606" stroke-width="0.4" >YMH2025</text>
<text x="3155.0" y="1152.0" font-size="24" fill="#060606" textLength="73.0" lengthAdjust="spacingAndGlyphs" stroke="#060606" stroke-width="0.4" >−2.84%</text>
<rect x="3144.7" y="5.5" width="94.6" height="37" rx="7" fill="#0f0f0f" stroke="#4a4a4a" stroke-width="1.2"/>
<text x="3149.8" y="29.6" font-size="17" fill="#e6e6e6" textLength="30.6" lengthAdjust="spacingAndGlyphs" stroke="#e6e6e6" stroke-width="0.4" >USD</text>
<path d="M3226 22L3229.3 25.3L3232.6 22" stroke="#e6e6e6" stroke-width="1.8" fill="none" stroke-linecap="round" stroke-linejoin="round"/>
<circle cx="29.3" cy="23.5" r="13.4" fill="#c8102e"/>
<text x="18.9" y="27.4" font-size="10.5" fill="#ffffff" textLength="20.8" lengthAdjust="spacingAndGlyphs" font-weight="bold" >500</text>
<text x="49.7" y="31.8" font-size="24" fill="#bbbecb" textLength="248.3" lengthAdjust="spacingAndGlyphs" stroke="#bbbecb" stroke-width="0.4" >S&amp;P 500 E-mini Futures</text>
<circle cx="307.5" cy="23.6" r="2" fill="#bbbecb"/><circle cx="351" cy="23.6" r="2" fill="#bbbecb"/>
<text x="318.3" y="31.8" font-size="24" fill="#bbbecb" textLength="22.4" lengthAdjust="spacingAndGlyphs" stroke="#bbbecb" stroke-width="0.4" >15</text>
<text x="360.0" y="31.8" font-size="24" fill="#bbbecb" textLength="43.7" lengthAdjust="spacingAndGlyphs" stroke="#bbbecb" stroke-width="0.4" >CME</text>
<circle cx="439.4" cy="23.3" r="13.4" fill="#089981" fill-opacity="0.2"/>
<circle cx="439.4" cy="23.3" r="6.2" fill="#089981"/>
<text x="478.3" y="30.2" font-size="18.2" fill="#ffffff" textLength="59.0" lengthAdjust="spacingAndGlyphs" stroke="#ffffff" stroke-width="0.4">−2.05%</text>
<rect x="15.6" y="47.5" width="108" height="50" rx="8" fill="#0f0f0f" stroke="#f23645" stroke-width="1.3"/>
<text x="32.4" y="70.0" font-size="18" fill="#f23645" textLength="74.2" lengthAdjust="spacingAndGlyphs" stroke="#f23645" stroke-width="0.5">5,615.75</text>
<text x="51.8" y="90.0" font-size="15.8" fill="#f23645" textLength="35.0" lengthAdjust="spacingAndGlyphs" stroke="#f23645" stroke-width="0.3">SELL</text>
<text x="135.0" y="77.0" font-size="15.4" fill="#d6d8de" textLength="29.2" lengthAdjust="spacingAndGlyphs" font-family="Liberation Serif, serif" >0.25</text>
<rect x="177.6" y="47.5" width="107.4" height="50" rx="8" fill="#0f0f0f" stroke="#2962ff" stroke-width="1.3"/>
<text x="193.5" y="70.0" font-size="18" fill="#2962ff" textLength="74.9" lengthAdjust="spacingAndGlyphs" stroke="#2962ff" stroke-width="0.5">5,616.00</text>
<text x="215.7" y="90.0" font-size="15.8" fill="#2962ff" textLength="30.3" lengthAdjust="spacingAndGlyphs" stroke="#2962ff" stroke-width="0.3">BUY</text>
<rect x="17.7" y="107.5" width="54.8" height="29.6" rx="4" fill="#171a26" stroke="#3a3d49" stroke-width="1.1"/>
<path d="M26.2 121.3L32 126L37.8 121.3" stroke="#d8dae0" stroke-width="1.9" fill="none" stroke-linecap="round" stroke-linejoin="round"/>
<text x="46.3" y="128.8" font-size="18.7" fill="#e2e3e8" textLength="20.7" lengthAdjust="spacingAndGlyphs" stroke="#e2e3e8" stroke-width="0.4" >20</text>
<rect x="718" y="3" width="724" height="60" rx="10" fill="#000" fill-opacity="0.35" filter="url(#sh)"/>
<rect x="720" y="2.2" width="720" height="56.7" rx="9" fill="#1f1f1f"/>
<circle cx="733.4" cy="23.4" r="1.5" fill="#4f4f4f"/>
<circle cx="733.4" cy="31" r="1.5" fill="#4f4f4f"/>
<circle cx="733.4" cy="38.5" r="1.5" fill="#4f4f4f"/>
<circle cx="742.6" cy="23.4" r="1.5" fill="#4f4f4f"/>
<circle cx="742.6" cy="31" r="1.5" fill="#4f4f4f"/>
<circle cx="742.6" cy="38.5" r="1.5" fill="#4f4f4f"/>
<path d="M768.1 16.9H801.9M768.1 25.9H797.7M768.1 34.9H801.9M772.5 43.8H801.9" stroke="#dadada" stroke-width="1.4" fill="none"/><circle cx="800.9" cy="25.9" r="2.95" fill="#1f1f1f" stroke="#dadada" stroke-width="1.4"/><circle cx="769.3" cy="43.8" r="2.95" fill="#1f1f1f" stroke="#dadada" stroke-width="1.4"/><path d="M831.5 41.5L852.3 20.5" stroke="#dadada" stroke-width="1.4" fill="none"/><circle cx="854.6" cy="18.2" r="2.95" fill="#1f1f1f" stroke="#dadada" stroke-width="1.4"/><circle cx="829.2" cy="43.8" r="2.95" fill="#1f1f1f" stroke="#dadada" stroke-width="1.4"/><path d="M891 31.7H915.8" stroke="#dadada" stroke-width="1.4" fill="none"/><circle cx="887.7" cy="31.7" r="2.95" fill="#1f1f1f" stroke="#dadada" stroke-width="1.4"/><path d="M940.9 31.7H953.4M959.8 31.7H972.5" stroke="#dadada" stroke-width="1.4" fill="none"/><circle cx="956.6" cy="31.7" r="2.95" fill="#1f1f1f" stroke="#dadada" stroke-width="1.4"/><path d="M1003.3 18.2H1022.5M1003.3 43.8H1022.5M1000.1 21.4V40.6M1025.7 21.4V40.6" stroke="#dadada" stroke-width="1.4" fill="none"/><circle cx="1000.1" cy="18.2" r="2.95" fill="#1f1f1f" stroke="#dadada" stroke-width="1.4"/><circle cx="1025.7" cy="18.2" r="2.95" fill="#1f1f1f" stroke="#dadada" stroke-width="1.4"/><circle cx="1000.1" cy="43.8" r="2.95" fill="#1f1f1f" stroke="#dadada" stroke-width="1.4"/><circle cx="1025.7" cy="43.8" r="2.95" fill="#1f1f1f" stroke="#dadada" stroke-width="1.4"/><ellipse cx="1070.5" cy="31.5" rx="16.5" ry="12" fill="none" stroke="#dadada" stroke-width="1.4"/><circle cx="1070.5" cy="19.4" r="2.95" fill="#1f1f1f" stroke="#dadada" stroke-width="1.4"/><circle cx="1070.5" cy="43.6" r="2.95" fill="#1f1f1f" stroke="#dadada" stroke-width="1.4"/><circle cx="1054" cy="31.6" r="2.95" fill="#1f1f1f" stroke="#dadada" stroke-width="1.4"/><circle cx="1087" cy="31.6" r="2.95" fill="#1f1f1f" stroke="#dadada" stroke-width="1.4"/><path d="M1115.9 19.7H1141.7M1115.9 34.9H1136.7M1115.9 43.8H1141.7" stroke="#dadada" stroke-width="1.4" fill="none"/><path d="M1118.8 31.9L1140.3 22.3" stroke="#dadada" stroke-width="1.4" fill="none" stroke-dasharray="2 3"/><circle cx="1112.6" cy="19.7" r="2.95" fill="#1f1f1f" stroke="#dadada" stroke-width="1.4"/><circle cx="1112.6" cy="34.9" r="2.95" fill="#1f1f1f" stroke="#dadada" stroke-width="1.4"/><circle cx="1139.9" cy="34.9" r="2.95" fill="#1f1f1f" stroke="#dadada" stroke-width="1.4"/><circle cx="1112.6" cy="43.8" r="2.95" fill="#1f1f1f" stroke="#dadada" stroke-width="1.4"/><path d="M1172.9 19.7H1199.2M1172.9 28.7H1193.8M1172.9 43.8H1199.2" stroke="#dadada" stroke-width="1.4" fill="none"/><path d="M1175.8 31.3L1196.3 40.9" stroke="#dadada" stroke-width="1.4" fill="none" stroke-dasharray="2 3"/><circle cx="1169.7" cy="19.7" r="2.95" fill="#1f1f1f" stroke="#dadada" stroke-width="1.4"/><circle cx="1169.7" cy="28.7" r="2.95" fill="#1f1f1f" stroke="#dadada" stroke-width="1.4"/><circle cx="1197" cy="28.7" r="2.95" fill="#1f1f1f" stroke="#dadada" stroke-width="1.4"/><circle cx="1169.7" cy="43.8" r="2.95" fill="#1f1f1f" stroke="#dadada" stroke-width="1.4"/><path d="M1231.9 40.1L1239.3 32.5M1243.9 27.9L1256.4 15.5" stroke="#dadada" stroke-width="1.4" fill="none"/><circle cx="1229.6" cy="42.4" r="2.95" fill="#1f1f1f" stroke="#dadada" stroke-width="1.4"/><circle cx="1241.6" cy="30.2" r="2.95" fill="#1f1f1f" stroke="#dadada" stroke-width="1.4"/><path d="M1288.8 37.2L1303.9 22M1295.4 47.4L1302.2 40.4M1306.8 35.8L1314.5 28.3" stroke="#dadada" stroke-width="1.4" fill="none"/><circle cx="1286.5" cy="39.5" r="2.95" fill="#1f1f1f" stroke="#dadada" stroke-width="1.4"/><circle cx="1306.2" cy="19.7" r="2.95" fill="#1f1f1f" stroke="#dadada" stroke-width="1.4"/><circle cx="1304.5" cy="38.1" r="2.95" fill="#1f1f1f" stroke="#dadada" stroke-width="1.4"/><path d="M1343.4 23.1L1358.9 17.8M1340.4 27.3V31.7M1343.6 34.9H1373M1340 40.9H1373M1340 46.7H1373" stroke="#dadada" stroke-width="1.4" fill="none"/><circle cx="1340.4" cy="24.1" r="2.95" fill="#1f1f1f" stroke="#dadada" stroke-width="1.4"/><circle cx="1361.9" cy="16.8" r="2.95" fill="#1f1f1f" stroke="#dadada" stroke-width="1.4"/><circle cx="1340.4" cy="34.9" r="2.95" fill="#1f1f1f" stroke="#dadada" stroke-width="1.4"/><path d="M1394.5 44.3L1401 36.6C1404.5 27.8 1415.2 27 1416.8 35.6C1417.6 42.6 1409.5 45 1394.5 44.3Z" stroke="#dadada" stroke-width="1.4" fill="none"/><path d="M1415.4 22.6C1416 26.6 1418.8 30 1421.4 29.2L1432 19.4" stroke="#dadada" stroke-width="1.4" fill="none"/>
<g stroke="#0c0c0c" stroke-width="5" stroke-linejoin="miter" fill="#0c0c0c"><path d="M20.9 1673.2H39.1V1695.8H29.9V1682.9H20.9z"/><circle cx="46.6" cy="1678.1" r="4.6"/><path d="M55 1673.2H66L56.8 1695.8H46.3z"/></g>
<g fill="#dcdcdc"><path d="M20.9 1673.2H39.1V1695.8H29.9V1682.9H20.9z"/><circle cx="46.6" cy="1678.1" r="4.6"/><path d="M55 1673.2H66L56.8 1695.8H46.3z"/></g>
</svg>
</body></html>
